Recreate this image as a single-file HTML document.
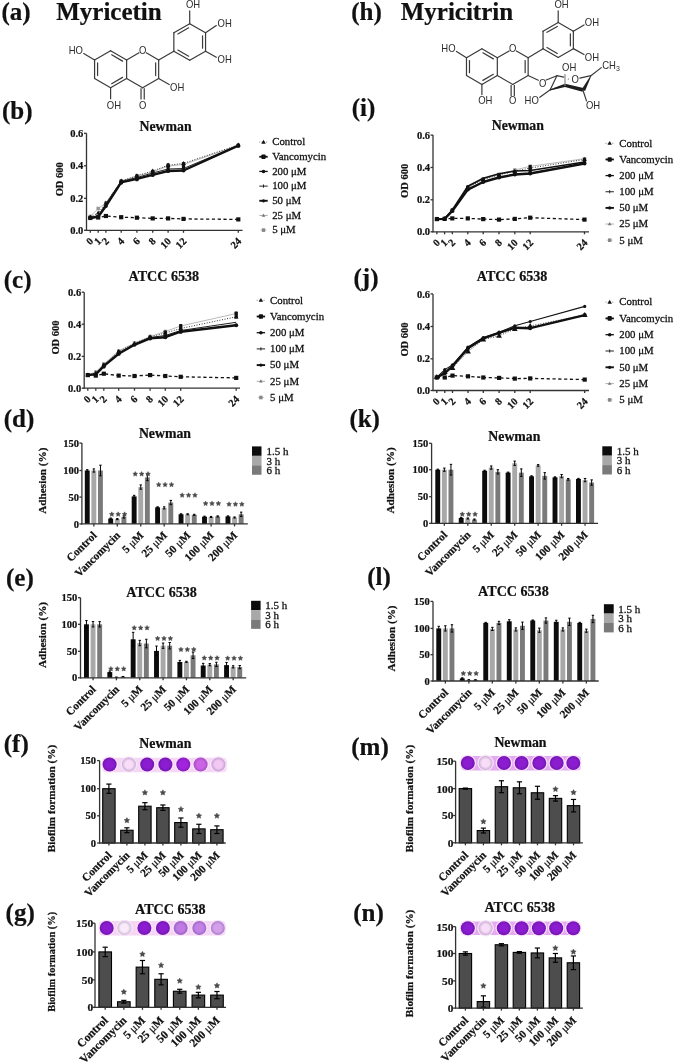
<!DOCTYPE html>
<html><head><meta charset="utf-8"><style>
html,body{margin:0;padding:0;background:#fff;}
svg{display:block;will-change:transform;}
</style></head><body>
<svg width="675" height="1064" viewBox="0 0 675 1064">
<rect width="675" height="1064" fill="#fff"/>
<text x="1.50" y="19.80" font-family="'Liberation Serif', serif" font-size="25" font-weight="bold" text-anchor="start" fill="#111" stroke="#111" stroke-width="0.22">(a)</text>
<text x="56.20" y="20.00" font-family="'Liberation Serif', serif" font-size="25" font-weight="bold" text-anchor="start" fill="#111" stroke="#111" stroke-width="0.22">Myricetin</text>
<text x="351.30" y="19.80" font-family="'Liberation Serif', serif" font-size="25" font-weight="bold" text-anchor="start" fill="#111" stroke="#111" stroke-width="0.22">(h)</text>
<text x="400.70" y="20.00" font-family="'Liberation Serif', serif" font-size="25" font-weight="bold" text-anchor="start" fill="#111" stroke="#111" stroke-width="0.22">Myricitrin</text>
<text x="2.00" y="118.60" font-family="'Liberation Serif', serif" font-size="25" font-weight="bold" text-anchor="start" fill="#111" stroke="#111" stroke-width="0.22">(b)</text>
<text x="3.80" y="287.50" font-family="'Liberation Serif', serif" font-size="25" font-weight="bold" text-anchor="start" fill="#111" stroke="#111" stroke-width="0.22">(c)</text>
<text x="3.80" y="427.30" font-family="'Liberation Serif', serif" font-size="25" font-weight="bold" text-anchor="start" fill="#111" stroke="#111" stroke-width="0.22">(d)</text>
<text x="6.00" y="586.30" font-family="'Liberation Serif', serif" font-size="25" font-weight="bold" text-anchor="start" fill="#111" stroke="#111" stroke-width="0.22">(e)</text>
<text x="3.80" y="751.50" font-family="'Liberation Serif', serif" font-size="25" font-weight="bold" text-anchor="start" fill="#111" stroke="#111" stroke-width="0.22">(f)</text>
<text x="5.60" y="920.50" font-family="'Liberation Serif', serif" font-size="25" font-weight="bold" text-anchor="start" fill="#111" stroke="#111" stroke-width="0.22">(g)</text>
<text x="351.70" y="116.30" font-family="'Liberation Serif', serif" font-size="25" font-weight="bold" text-anchor="start" fill="#111" stroke="#111" stroke-width="0.22">(i)</text>
<text x="353.50" y="286.30" font-family="'Liberation Serif', serif" font-size="25" font-weight="bold" text-anchor="start" fill="#111" stroke="#111" stroke-width="0.22">(j)</text>
<text x="349.40" y="427.00" font-family="'Liberation Serif', serif" font-size="25" font-weight="bold" text-anchor="start" fill="#111" stroke="#111" stroke-width="0.22">(k)</text>
<text x="367.30" y="585.40" font-family="'Liberation Serif', serif" font-size="25" font-weight="bold" text-anchor="start" fill="#111" stroke="#111" stroke-width="0.22">(l)</text>
<text x="351.30" y="754.50" font-family="'Liberation Serif', serif" font-size="25" font-weight="bold" text-anchor="start" fill="#111" stroke="#111" stroke-width="0.22">(m)</text>
<text x="353.20" y="920.50" font-family="'Liberation Serif', serif" font-size="25" font-weight="bold" text-anchor="start" fill="#111" stroke="#111" stroke-width="0.22">(n)</text>
<line x1="86.50" y1="133.30" x2="86.50" y2="230.80" stroke="#333" stroke-width="1.3"/>
<line x1="84.00" y1="133.30" x2="86.50" y2="133.30" stroke="#333" stroke-width="1.3"/>
<text x="83.30" y="136.90" font-family="'Liberation Serif', serif" font-size="10.5" font-weight="bold" text-anchor="end" fill="#111" stroke="#111" stroke-width="0.22">0.6</text>
<line x1="84.00" y1="165.80" x2="86.50" y2="165.80" stroke="#333" stroke-width="1.3"/>
<text x="83.30" y="169.40" font-family="'Liberation Serif', serif" font-size="10.5" font-weight="bold" text-anchor="end" fill="#111" stroke="#111" stroke-width="0.22">0.4</text>
<line x1="84.00" y1="198.30" x2="86.50" y2="198.30" stroke="#333" stroke-width="1.3"/>
<text x="83.30" y="201.90" font-family="'Liberation Serif', serif" font-size="10.5" font-weight="bold" text-anchor="end" fill="#111" stroke="#111" stroke-width="0.22">0.2</text>
<line x1="84.00" y1="230.30" x2="86.50" y2="230.30" stroke="#333" stroke-width="1.3"/>
<text x="83.30" y="233.90" font-family="'Liberation Serif', serif" font-size="10.5" font-weight="bold" text-anchor="end" fill="#111" stroke="#111" stroke-width="0.22">0.0</text>
<line x1="86.00" y1="230.30" x2="242.50" y2="230.30" stroke="#333" stroke-width="1.3"/>
<line x1="90.30" y1="230.30" x2="90.30" y2="232.80" stroke="#333" stroke-width="1.3"/>
<line x1="98.20" y1="230.30" x2="98.20" y2="232.80" stroke="#333" stroke-width="1.3"/>
<line x1="105.90" y1="230.30" x2="105.90" y2="232.80" stroke="#333" stroke-width="1.3"/>
<line x1="121.20" y1="230.30" x2="121.20" y2="232.80" stroke="#333" stroke-width="1.3"/>
<line x1="136.90" y1="230.30" x2="136.90" y2="232.80" stroke="#333" stroke-width="1.3"/>
<line x1="152.70" y1="230.30" x2="152.70" y2="232.80" stroke="#333" stroke-width="1.3"/>
<line x1="168.10" y1="230.30" x2="168.10" y2="232.80" stroke="#333" stroke-width="1.3"/>
<line x1="183.50" y1="230.30" x2="183.50" y2="232.80" stroke="#333" stroke-width="1.3"/>
<line x1="238.30" y1="230.30" x2="238.30" y2="232.80" stroke="#333" stroke-width="1.3"/>
<text x="94.00" y="241.90" font-family="'Liberation Serif', serif" font-size="10.4" font-weight="bold" text-anchor="end" fill="#111" transform="rotate(-45 94.00 241.90)" stroke="#111" stroke-width="0.22">0</text>
<text x="101.90" y="241.90" font-family="'Liberation Serif', serif" font-size="10.4" font-weight="bold" text-anchor="end" fill="#111" transform="rotate(-45 101.90 241.90)" stroke="#111" stroke-width="0.22">1</text>
<text x="109.60" y="241.90" font-family="'Liberation Serif', serif" font-size="10.4" font-weight="bold" text-anchor="end" fill="#111" transform="rotate(-45 109.60 241.90)" stroke="#111" stroke-width="0.22">2</text>
<text x="124.90" y="241.90" font-family="'Liberation Serif', serif" font-size="10.4" font-weight="bold" text-anchor="end" fill="#111" transform="rotate(-45 124.90 241.90)" stroke="#111" stroke-width="0.22">4</text>
<text x="140.60" y="241.90" font-family="'Liberation Serif', serif" font-size="10.4" font-weight="bold" text-anchor="end" fill="#111" transform="rotate(-45 140.60 241.90)" stroke="#111" stroke-width="0.22">6</text>
<text x="156.40" y="241.90" font-family="'Liberation Serif', serif" font-size="10.4" font-weight="bold" text-anchor="end" fill="#111" transform="rotate(-45 156.40 241.90)" stroke="#111" stroke-width="0.22">8</text>
<text x="171.80" y="241.90" font-family="'Liberation Serif', serif" font-size="10.4" font-weight="bold" text-anchor="end" fill="#111" transform="rotate(-45 171.80 241.90)" stroke="#111" stroke-width="0.22">10</text>
<text x="187.20" y="241.90" font-family="'Liberation Serif', serif" font-size="10.4" font-weight="bold" text-anchor="end" fill="#111" transform="rotate(-45 187.20 241.90)" stroke="#111" stroke-width="0.22">12</text>
<text x="242.00" y="241.90" font-family="'Liberation Serif', serif" font-size="10.4" font-weight="bold" text-anchor="end" fill="#111" transform="rotate(-45 242.00 241.90)" stroke="#111" stroke-width="0.22">24</text>
<text x="62.80" y="179.30" font-family="'Liberation Serif', serif" font-size="10.5" font-weight="bold" text-anchor="middle" fill="#111" transform="rotate(-90 62.80 179.30)" stroke="#111" stroke-width="0.22">OD 600</text>
<text x="139.50" y="130.50" font-family="'Liberation Serif', serif" font-size="13.8" font-weight="bold" text-anchor="start" fill="#111" stroke="#111" stroke-width="0.22">Newman</text>
<polyline points="90.30,216.50 98.20,208.50 105.90,203.00 121.20,181.00 136.90,176.00 152.70,172.00 168.10,166.00 183.50,164.50 238.30,145.50" fill="none" stroke="#bbb" stroke-width="1.0" stroke-linejoin="round"/>
<rect x="88.54" y="214.74" width="3.52" height="3.52" fill="#999"/>
<rect x="96.44" y="206.74" width="3.52" height="3.52" fill="#999"/>
<rect x="104.14" y="201.24" width="3.52" height="3.52" fill="#999"/>
<rect x="119.44" y="179.24" width="3.52" height="3.52" fill="#999"/>
<rect x="135.14" y="174.24" width="3.52" height="3.52" fill="#999"/>
<rect x="150.94" y="170.24" width="3.52" height="3.52" fill="#999"/>
<rect x="166.34" y="164.24" width="3.52" height="3.52" fill="#999"/>
<rect x="181.74" y="162.74" width="3.52" height="3.52" fill="#999"/>
<rect x="236.54" y="143.74" width="3.52" height="3.52" fill="#999"/>
<polyline points="90.30,217.00 98.20,213.00 105.90,203.00 121.20,181.00 136.90,175.80 152.70,171.00 168.10,165.30 183.50,163.40 238.30,145.00" fill="none" stroke="#333" stroke-width="1.0" stroke-linejoin="round" stroke-dasharray="1,1.6"/>
<polygon points="90.30,214.48 92.64,218.62 87.96,218.62" fill="#111"/>
<polygon points="98.20,210.48 100.54,214.62 95.86,214.62" fill="#111"/>
<polygon points="105.90,200.48 108.24,204.62 103.56,204.62" fill="#111"/>
<polygon points="121.20,178.48 123.54,182.62 118.86,182.62" fill="#111"/>
<polygon points="136.90,173.28 139.24,177.42 134.56,177.42" fill="#111"/>
<polygon points="152.70,168.48 155.04,172.62 150.36,172.62" fill="#111"/>
<polygon points="168.10,162.78 170.44,166.92 165.76,166.92" fill="#111"/>
<polygon points="183.50,160.88 185.84,165.02 181.16,165.02" fill="#111"/>
<polygon points="238.30,142.48 240.64,146.62 235.96,146.62" fill="#111"/>
<polyline points="90.30,217.50 98.20,215.50 105.90,204.00 121.20,181.50 136.90,177.50 152.70,173.00 168.10,169.00 183.50,168.50 238.30,145.50" fill="none" stroke="#222" stroke-width="1.0" stroke-linejoin="round"/>
<polyline points="90.30,218.00 98.20,216.80 105.90,206.10 121.20,182.40 136.90,178.80 152.70,174.80 168.10,171.00 183.50,170.50 238.30,145.70" fill="none" stroke="#111" stroke-width="2.4" stroke-linejoin="round"/>
<circle cx="90.30" cy="218.00" r="2.00" fill="#111"/>
<circle cx="98.20" cy="216.80" r="2.00" fill="#111"/>
<circle cx="105.90" cy="206.10" r="2.00" fill="#111"/>
<circle cx="121.20" cy="182.40" r="2.00" fill="#111"/>
<circle cx="136.90" cy="178.80" r="2.00" fill="#111"/>
<circle cx="152.70" cy="174.80" r="2.00" fill="#111"/>
<circle cx="168.10" cy="171.00" r="2.00" fill="#111"/>
<circle cx="183.50" cy="170.50" r="2.00" fill="#111"/>
<circle cx="238.30" cy="145.70" r="2.00" fill="#111"/>
<polyline points="90.30,218.00 98.20,217.50 105.90,216.00 121.20,217.20 136.90,217.70 152.70,218.40 168.10,218.40 183.50,218.90 238.30,219.40" fill="none" stroke="#111" stroke-width="1.3" stroke-linejoin="round" stroke-dasharray="3.2,2.6"/>
<rect x="88.21" y="215.91" width="4.18" height="4.18" fill="#111"/>
<rect x="96.11" y="215.41" width="4.18" height="4.18" fill="#111"/>
<rect x="103.81" y="213.91" width="4.18" height="4.18" fill="#111"/>
<rect x="119.11" y="215.11" width="4.18" height="4.18" fill="#111"/>
<rect x="134.81" y="215.61" width="4.18" height="4.18" fill="#111"/>
<rect x="150.61" y="216.31" width="4.18" height="4.18" fill="#111"/>
<rect x="166.01" y="216.31" width="4.18" height="4.18" fill="#111"/>
<rect x="181.41" y="216.81" width="4.18" height="4.18" fill="#111"/>
<rect x="236.21" y="217.31" width="4.18" height="4.18" fill="#111"/>
<rect x="119.60" y="179.50" width="3.2" height="4.90" rx="0.8" fill="#111"/>
<rect x="135.30" y="174.20" width="3.2" height="7.00" rx="0.8" fill="#111"/>
<rect x="151.10" y="169.80" width="3.2" height="6.90" rx="0.8" fill="#111"/>
<rect x="166.50" y="163.30" width="3.2" height="9.20" rx="0.8" fill="#111"/>
<rect x="181.90" y="162.00" width="3.2" height="9.30" rx="0.8" fill="#111"/>
<rect x="236.70" y="143.50" width="3.2" height="4.00" rx="0.8" fill="#111"/>
<line x1="259.30" y1="142.10" x2="267.70" y2="142.10" stroke="#666" stroke-width="0.9" stroke-dasharray="0.9,1.4"/>
<polygon points="263.50,139.72 265.71,143.63 261.29,143.63" fill="#111"/>
<text x="272.20" y="145.40" font-family="'Liberation Serif', serif" font-size="10.8" font-weight="normal" text-anchor="start" fill="#111" stroke="#111" stroke-width="0.28">Control</text>
<line x1="259.30" y1="156.77" x2="267.70" y2="156.77" stroke="#111" stroke-width="1.8"/>
<rect x="261.40" y="154.47" width="4.2" height="4.6" rx="0.8" fill="#111"/>
<text x="272.20" y="160.07" font-family="'Liberation Serif', serif" font-size="10.8" font-weight="normal" text-anchor="start" fill="#111" stroke="#111" stroke-width="0.28">Vancomycin</text>
<line x1="259.30" y1="171.44" x2="267.70" y2="171.44" stroke="#111" stroke-width="1.3"/>
<circle cx="263.50" cy="171.44" r="1.80" fill="#111"/>
<text x="272.20" y="174.74" font-family="'Liberation Serif', serif" font-size="10.8" font-weight="normal" text-anchor="start" fill="#111" stroke="#111" stroke-width="0.28">200 &#956;M</text>
<line x1="259.30" y1="186.11" x2="267.70" y2="186.11" stroke="#222" stroke-width="1.0"/>
<line x1="263.50" y1="184.51" x2="263.50" y2="187.71" stroke="#222" stroke-width="1.0"/>
<text x="272.20" y="189.41" font-family="'Liberation Serif', serif" font-size="10.8" font-weight="normal" text-anchor="start" fill="#111" stroke="#111" stroke-width="0.28">100 &#956;M</text>
<line x1="259.30" y1="200.78" x2="267.70" y2="200.78" stroke="#111" stroke-width="1.9"/>
<circle cx="263.50" cy="200.78" r="1.60" fill="#111"/>
<text x="272.20" y="204.08" font-family="'Liberation Serif', serif" font-size="10.8" font-weight="normal" text-anchor="start" fill="#111" stroke="#111" stroke-width="0.28">50 &#956;M</text>
<line x1="259.30" y1="215.45" x2="267.70" y2="215.45" stroke="#999" stroke-width="0.8"/>
<polygon points="263.50,213.49 265.32,216.71 261.68,216.71" fill="#777"/>
<text x="272.20" y="218.75" font-family="'Liberation Serif', serif" font-size="10.8" font-weight="normal" text-anchor="start" fill="#111" stroke="#111" stroke-width="0.28">25 &#956;M</text>
<line x1="260.50" y1="230.12" x2="266.50" y2="230.12" stroke="#bbb" stroke-width="0.8"/>
<rect x="261.80" y="228.32" width="3.40" height="3.60" fill="#888"/>
<text x="272.20" y="233.42" font-family="'Liberation Serif', serif" font-size="10.8" font-weight="normal" text-anchor="start" fill="#111" stroke="#111" stroke-width="0.28">5 &#956;M</text>
<line x1="84.20" y1="292.20" x2="84.20" y2="388.70" stroke="#333" stroke-width="1.3"/>
<line x1="81.70" y1="292.20" x2="84.20" y2="292.20" stroke="#333" stroke-width="1.3"/>
<text x="81.20" y="295.80" font-family="'Liberation Serif', serif" font-size="10.5" font-weight="bold" text-anchor="end" fill="#111" stroke="#111" stroke-width="0.22">0.6</text>
<line x1="81.70" y1="324.20" x2="84.20" y2="324.20" stroke="#333" stroke-width="1.3"/>
<text x="81.20" y="327.80" font-family="'Liberation Serif', serif" font-size="10.5" font-weight="bold" text-anchor="end" fill="#111" stroke="#111" stroke-width="0.22">0.4</text>
<line x1="81.70" y1="356.40" x2="84.20" y2="356.40" stroke="#333" stroke-width="1.3"/>
<text x="81.20" y="360.00" font-family="'Liberation Serif', serif" font-size="10.5" font-weight="bold" text-anchor="end" fill="#111" stroke="#111" stroke-width="0.22">0.2</text>
<line x1="81.70" y1="388.20" x2="84.20" y2="388.20" stroke="#333" stroke-width="1.3"/>
<text x="81.20" y="391.80" font-family="'Liberation Serif', serif" font-size="10.5" font-weight="bold" text-anchor="end" fill="#111" stroke="#111" stroke-width="0.22">0.0</text>
<line x1="83.70" y1="388.20" x2="240.00" y2="388.20" stroke="#333" stroke-width="1.3"/>
<line x1="87.80" y1="388.20" x2="87.80" y2="390.70" stroke="#333" stroke-width="1.3"/>
<line x1="95.80" y1="388.20" x2="95.80" y2="390.70" stroke="#333" stroke-width="1.3"/>
<line x1="103.80" y1="388.20" x2="103.80" y2="390.70" stroke="#333" stroke-width="1.3"/>
<line x1="118.70" y1="388.20" x2="118.70" y2="390.70" stroke="#333" stroke-width="1.3"/>
<line x1="134.50" y1="388.20" x2="134.50" y2="390.70" stroke="#333" stroke-width="1.3"/>
<line x1="150.10" y1="388.20" x2="150.10" y2="390.70" stroke="#333" stroke-width="1.3"/>
<line x1="165.30" y1="388.20" x2="165.30" y2="390.70" stroke="#333" stroke-width="1.3"/>
<line x1="180.70" y1="388.20" x2="180.70" y2="390.70" stroke="#333" stroke-width="1.3"/>
<line x1="236.20" y1="388.20" x2="236.20" y2="390.70" stroke="#333" stroke-width="1.3"/>
<text x="91.50" y="399.80" font-family="'Liberation Serif', serif" font-size="10.4" font-weight="bold" text-anchor="end" fill="#111" transform="rotate(-45 91.50 399.80)" stroke="#111" stroke-width="0.22">0</text>
<text x="99.50" y="399.80" font-family="'Liberation Serif', serif" font-size="10.4" font-weight="bold" text-anchor="end" fill="#111" transform="rotate(-45 99.50 399.80)" stroke="#111" stroke-width="0.22">1</text>
<text x="107.50" y="399.80" font-family="'Liberation Serif', serif" font-size="10.4" font-weight="bold" text-anchor="end" fill="#111" transform="rotate(-45 107.50 399.80)" stroke="#111" stroke-width="0.22">2</text>
<text x="122.40" y="399.80" font-family="'Liberation Serif', serif" font-size="10.4" font-weight="bold" text-anchor="end" fill="#111" transform="rotate(-45 122.40 399.80)" stroke="#111" stroke-width="0.22">4</text>
<text x="138.20" y="399.80" font-family="'Liberation Serif', serif" font-size="10.4" font-weight="bold" text-anchor="end" fill="#111" transform="rotate(-45 138.20 399.80)" stroke="#111" stroke-width="0.22">6</text>
<text x="153.80" y="399.80" font-family="'Liberation Serif', serif" font-size="10.4" font-weight="bold" text-anchor="end" fill="#111" transform="rotate(-45 153.80 399.80)" stroke="#111" stroke-width="0.22">8</text>
<text x="169.00" y="399.80" font-family="'Liberation Serif', serif" font-size="10.4" font-weight="bold" text-anchor="end" fill="#111" transform="rotate(-45 169.00 399.80)" stroke="#111" stroke-width="0.22">10</text>
<text x="184.40" y="399.80" font-family="'Liberation Serif', serif" font-size="10.4" font-weight="bold" text-anchor="end" fill="#111" transform="rotate(-45 184.40 399.80)" stroke="#111" stroke-width="0.22">12</text>
<text x="239.90" y="399.80" font-family="'Liberation Serif', serif" font-size="10.4" font-weight="bold" text-anchor="end" fill="#111" transform="rotate(-45 239.90 399.80)" stroke="#111" stroke-width="0.22">24</text>
<text x="58.80" y="337.50" font-family="'Liberation Serif', serif" font-size="10.5" font-weight="bold" text-anchor="middle" fill="#111" transform="rotate(-90 58.80 337.50)" stroke="#111" stroke-width="0.22">OD 600</text>
<text x="128.50" y="281.40" font-family="'Liberation Serif', serif" font-size="14.1" font-weight="bold" text-anchor="start" fill="#111" stroke="#111" stroke-width="0.22">ATCC 6538</text>
<polyline points="87.80,375.00 95.80,372.00 103.80,364.00 118.70,351.00 134.50,343.00 150.10,336.50 165.30,331.50 180.70,326.00 236.20,313.50" fill="none" stroke="#bbb" stroke-width="1.0" stroke-linejoin="round"/>
<rect x="86.04" y="373.24" width="3.52" height="3.52" fill="#999"/>
<rect x="94.04" y="370.24" width="3.52" height="3.52" fill="#999"/>
<rect x="102.04" y="362.24" width="3.52" height="3.52" fill="#999"/>
<rect x="116.94" y="349.24" width="3.52" height="3.52" fill="#999"/>
<rect x="132.74" y="341.24" width="3.52" height="3.52" fill="#999"/>
<rect x="148.34" y="334.74" width="3.52" height="3.52" fill="#999"/>
<rect x="163.54" y="329.74" width="3.52" height="3.52" fill="#999"/>
<rect x="178.94" y="324.24" width="3.52" height="3.52" fill="#999"/>
<rect x="234.44" y="311.74" width="3.52" height="3.52" fill="#999"/>
<polyline points="87.80,375.00 95.80,373.00 103.80,365.00 118.70,351.50 134.50,343.50 150.10,337.00 165.30,333.00 180.70,328.50 236.20,316.80" fill="none" stroke="#333" stroke-width="1.0" stroke-linejoin="round" stroke-dasharray="1,1.6"/>
<polygon points="87.80,372.48 90.14,376.62 85.46,376.62" fill="#111"/>
<polygon points="95.80,370.48 98.14,374.62 93.46,374.62" fill="#111"/>
<polygon points="103.80,362.48 106.14,366.62 101.46,366.62" fill="#111"/>
<polygon points="118.70,348.98 121.04,353.12 116.36,353.12" fill="#111"/>
<polygon points="134.50,340.98 136.84,345.12 132.16,345.12" fill="#111"/>
<polygon points="150.10,334.48 152.44,338.62 147.76,338.62" fill="#111"/>
<polygon points="165.30,330.48 167.64,334.62 162.96,334.62" fill="#111"/>
<polygon points="180.70,325.98 183.04,330.12 178.36,330.12" fill="#111"/>
<polygon points="236.20,314.28 238.54,318.42 233.86,318.42" fill="#111"/>
<polyline points="87.80,375.00 95.80,373.50 103.80,365.50 118.70,353.00 134.50,344.00 150.10,337.50 165.30,335.50 180.70,330.50 236.20,322.30" fill="none" stroke="#222" stroke-width="1.0" stroke-linejoin="round"/>
<polyline points="87.80,375.10 95.80,374.40 103.80,366.10 118.70,353.80 134.50,344.80 150.10,338.40 165.30,337.20 180.70,331.70 236.20,325.30" fill="none" stroke="#111" stroke-width="2.4" stroke-linejoin="round"/>
<circle cx="87.80" cy="375.10" r="2.00" fill="#111"/>
<circle cx="95.80" cy="374.40" r="2.00" fill="#111"/>
<circle cx="103.80" cy="366.10" r="2.00" fill="#111"/>
<circle cx="118.70" cy="353.80" r="2.00" fill="#111"/>
<circle cx="134.50" cy="344.80" r="2.00" fill="#111"/>
<circle cx="150.10" cy="338.40" r="2.00" fill="#111"/>
<circle cx="165.30" cy="337.20" r="2.00" fill="#111"/>
<circle cx="180.70" cy="331.70" r="2.00" fill="#111"/>
<circle cx="236.20" cy="325.30" r="2.00" fill="#111"/>
<polyline points="87.80,375.10 95.80,375.60 103.80,373.70 118.70,375.60 134.50,376.00 150.10,375.10 165.30,376.00 180.70,376.80 236.20,377.90" fill="none" stroke="#111" stroke-width="1.3" stroke-linejoin="round" stroke-dasharray="3.2,2.6"/>
<rect x="85.71" y="373.01" width="4.18" height="4.18" fill="#111"/>
<rect x="93.71" y="373.51" width="4.18" height="4.18" fill="#111"/>
<rect x="101.71" y="371.61" width="4.18" height="4.18" fill="#111"/>
<rect x="116.61" y="373.51" width="4.18" height="4.18" fill="#111"/>
<rect x="132.41" y="373.91" width="4.18" height="4.18" fill="#111"/>
<rect x="148.01" y="373.01" width="4.18" height="4.18" fill="#111"/>
<rect x="163.21" y="373.91" width="4.18" height="4.18" fill="#111"/>
<rect x="178.61" y="374.71" width="4.18" height="4.18" fill="#111"/>
<rect x="234.11" y="375.81" width="4.18" height="4.18" fill="#111"/>
<rect x="102.20" y="363.50" width="3.2" height="5.00" rx="0.8" fill="#111"/>
<rect x="117.10" y="350.50" width="3.2" height="5.00" rx="0.8" fill="#111"/>
<rect x="148.50" y="335.50" width="3.2" height="4.50" rx="0.8" fill="#111"/>
<rect x="163.70" y="330.50" width="3.2" height="8.00" rx="0.8" fill="#111"/>
<rect x="179.10" y="324.00" width="3.2" height="9.50" rx="0.8" fill="#111"/>
<rect x="234.60" y="311.50" width="3.2" height="7.00" rx="0.8" fill="#111"/>
<line x1="256.70" y1="300.30" x2="265.10" y2="300.30" stroke="#666" stroke-width="0.9" stroke-dasharray="0.9,1.4"/>
<polygon points="260.90,297.92 263.11,301.83 258.69,301.83" fill="#111"/>
<text x="270.10" y="303.60" font-family="'Liberation Serif', serif" font-size="10.8" font-weight="normal" text-anchor="start" fill="#111" stroke="#111" stroke-width="0.28">Control</text>
<line x1="256.70" y1="316.50" x2="265.10" y2="316.50" stroke="#111" stroke-width="1.8"/>
<rect x="258.80" y="314.20" width="4.2" height="4.6" rx="0.8" fill="#111"/>
<text x="270.10" y="319.80" font-family="'Liberation Serif', serif" font-size="10.8" font-weight="normal" text-anchor="start" fill="#111" stroke="#111" stroke-width="0.28">Vancomycin</text>
<line x1="256.70" y1="332.70" x2="265.10" y2="332.70" stroke="#111" stroke-width="1.3"/>
<circle cx="260.90" cy="332.70" r="1.80" fill="#111"/>
<text x="270.10" y="336.00" font-family="'Liberation Serif', serif" font-size="10.8" font-weight="normal" text-anchor="start" fill="#111" stroke="#111" stroke-width="0.28">200 &#956;M</text>
<line x1="256.70" y1="348.90" x2="265.10" y2="348.90" stroke="#222" stroke-width="1.0"/>
<line x1="260.90" y1="347.30" x2="260.90" y2="350.50" stroke="#222" stroke-width="1.0"/>
<text x="270.10" y="352.20" font-family="'Liberation Serif', serif" font-size="10.8" font-weight="normal" text-anchor="start" fill="#111" stroke="#111" stroke-width="0.28">100 &#956;M</text>
<line x1="256.70" y1="365.10" x2="265.10" y2="365.10" stroke="#111" stroke-width="1.9"/>
<circle cx="260.90" cy="365.10" r="1.60" fill="#111"/>
<text x="270.10" y="368.40" font-family="'Liberation Serif', serif" font-size="10.8" font-weight="normal" text-anchor="start" fill="#111" stroke="#111" stroke-width="0.28">50 &#956;M</text>
<line x1="256.70" y1="381.30" x2="265.10" y2="381.30" stroke="#999" stroke-width="0.8"/>
<polygon points="260.90,379.34 262.72,382.56 259.08,382.56" fill="#777"/>
<text x="270.10" y="384.60" font-family="'Liberation Serif', serif" font-size="10.8" font-weight="normal" text-anchor="start" fill="#111" stroke="#111" stroke-width="0.28">25 &#956;M</text>
<line x1="257.90" y1="397.50" x2="263.90" y2="397.50" stroke="#bbb" stroke-width="0.8"/>
<rect x="259.20" y="395.70" width="3.40" height="3.60" fill="#888"/>
<text x="270.10" y="400.80" font-family="'Liberation Serif', serif" font-size="10.8" font-weight="normal" text-anchor="start" fill="#111" stroke="#111" stroke-width="0.28">5 &#956;M</text>
<line x1="433.00" y1="135.10" x2="433.00" y2="232.30" stroke="#333" stroke-width="1.3"/>
<line x1="430.50" y1="135.10" x2="433.00" y2="135.10" stroke="#333" stroke-width="1.3"/>
<text x="430.00" y="138.70" font-family="'Liberation Serif', serif" font-size="10.5" font-weight="bold" text-anchor="end" fill="#111" stroke="#111" stroke-width="0.22">0.6</text>
<line x1="430.50" y1="167.50" x2="433.00" y2="167.50" stroke="#333" stroke-width="1.3"/>
<text x="430.00" y="171.10" font-family="'Liberation Serif', serif" font-size="10.5" font-weight="bold" text-anchor="end" fill="#111" stroke="#111" stroke-width="0.22">0.4</text>
<line x1="430.50" y1="199.80" x2="433.00" y2="199.80" stroke="#333" stroke-width="1.3"/>
<text x="430.00" y="203.40" font-family="'Liberation Serif', serif" font-size="10.5" font-weight="bold" text-anchor="end" fill="#111" stroke="#111" stroke-width="0.22">0.2</text>
<line x1="430.50" y1="231.80" x2="433.00" y2="231.80" stroke="#333" stroke-width="1.3"/>
<text x="430.00" y="235.40" font-family="'Liberation Serif', serif" font-size="10.5" font-weight="bold" text-anchor="end" fill="#111" stroke="#111" stroke-width="0.22">0.0</text>
<line x1="432.50" y1="231.80" x2="589.00" y2="231.80" stroke="#333" stroke-width="1.3"/>
<line x1="436.90" y1="231.80" x2="436.90" y2="234.30" stroke="#333" stroke-width="1.3"/>
<line x1="444.60" y1="231.80" x2="444.60" y2="234.30" stroke="#333" stroke-width="1.3"/>
<line x1="452.30" y1="231.80" x2="452.30" y2="234.30" stroke="#333" stroke-width="1.3"/>
<line x1="467.80" y1="231.80" x2="467.80" y2="234.30" stroke="#333" stroke-width="1.3"/>
<line x1="483.20" y1="231.80" x2="483.20" y2="234.30" stroke="#333" stroke-width="1.3"/>
<line x1="499.00" y1="231.80" x2="499.00" y2="234.30" stroke="#333" stroke-width="1.3"/>
<line x1="514.80" y1="231.80" x2="514.80" y2="234.30" stroke="#333" stroke-width="1.3"/>
<line x1="530.20" y1="231.80" x2="530.20" y2="234.30" stroke="#333" stroke-width="1.3"/>
<line x1="584.50" y1="231.80" x2="584.50" y2="234.30" stroke="#333" stroke-width="1.3"/>
<text x="440.60" y="243.40" font-family="'Liberation Serif', serif" font-size="10.4" font-weight="bold" text-anchor="end" fill="#111" transform="rotate(-45 440.60 243.40)" stroke="#111" stroke-width="0.22">0</text>
<text x="448.30" y="243.40" font-family="'Liberation Serif', serif" font-size="10.4" font-weight="bold" text-anchor="end" fill="#111" transform="rotate(-45 448.30 243.40)" stroke="#111" stroke-width="0.22">1</text>
<text x="456.00" y="243.40" font-family="'Liberation Serif', serif" font-size="10.4" font-weight="bold" text-anchor="end" fill="#111" transform="rotate(-45 456.00 243.40)" stroke="#111" stroke-width="0.22">2</text>
<text x="471.50" y="243.40" font-family="'Liberation Serif', serif" font-size="10.4" font-weight="bold" text-anchor="end" fill="#111" transform="rotate(-45 471.50 243.40)" stroke="#111" stroke-width="0.22">4</text>
<text x="486.90" y="243.40" font-family="'Liberation Serif', serif" font-size="10.4" font-weight="bold" text-anchor="end" fill="#111" transform="rotate(-45 486.90 243.40)" stroke="#111" stroke-width="0.22">6</text>
<text x="502.70" y="243.40" font-family="'Liberation Serif', serif" font-size="10.4" font-weight="bold" text-anchor="end" fill="#111" transform="rotate(-45 502.70 243.40)" stroke="#111" stroke-width="0.22">8</text>
<text x="518.50" y="243.40" font-family="'Liberation Serif', serif" font-size="10.4" font-weight="bold" text-anchor="end" fill="#111" transform="rotate(-45 518.50 243.40)" stroke="#111" stroke-width="0.22">10</text>
<text x="533.90" y="243.40" font-family="'Liberation Serif', serif" font-size="10.4" font-weight="bold" text-anchor="end" fill="#111" transform="rotate(-45 533.90 243.40)" stroke="#111" stroke-width="0.22">12</text>
<text x="588.20" y="243.40" font-family="'Liberation Serif', serif" font-size="10.4" font-weight="bold" text-anchor="end" fill="#111" transform="rotate(-45 588.20 243.40)" stroke="#111" stroke-width="0.22">24</text>
<text x="407.60" y="180.90" font-family="'Liberation Serif', serif" font-size="10.5" font-weight="bold" text-anchor="middle" fill="#111" transform="rotate(-90 407.60 180.90)" stroke="#111" stroke-width="0.22">OD 600</text>
<text x="491.70" y="130.30" font-family="'Liberation Serif', serif" font-size="13.8" font-weight="bold" text-anchor="start" fill="#111" stroke="#111" stroke-width="0.22">Newman</text>
<polyline points="436.90,219.00 444.60,218.50 452.30,210.00 467.80,187.00 483.20,179.00 499.00,174.50 514.80,170.00 530.20,166.30 584.50,158.70" fill="none" stroke="#bbb" stroke-width="1.0" stroke-linejoin="round"/>
<rect x="435.14" y="217.24" width="3.52" height="3.52" fill="#999"/>
<rect x="442.84" y="216.74" width="3.52" height="3.52" fill="#999"/>
<rect x="450.54" y="208.24" width="3.52" height="3.52" fill="#999"/>
<rect x="466.04" y="185.24" width="3.52" height="3.52" fill="#999"/>
<rect x="481.44" y="177.24" width="3.52" height="3.52" fill="#999"/>
<rect x="497.24" y="172.74" width="3.52" height="3.52" fill="#999"/>
<rect x="513.04" y="168.24" width="3.52" height="3.52" fill="#999"/>
<rect x="528.44" y="164.54" width="3.52" height="3.52" fill="#999"/>
<rect x="582.74" y="156.94" width="3.52" height="3.52" fill="#999"/>
<polyline points="436.90,219.00 444.60,218.50 452.30,210.00 467.80,187.50 483.20,179.50 499.00,175.00 514.80,171.30 530.20,168.00 584.50,159.50" fill="none" stroke="#333" stroke-width="1.0" stroke-linejoin="round" stroke-dasharray="1,1.6"/>
<polygon points="436.90,216.48 439.24,220.62 434.56,220.62" fill="#111"/>
<polygon points="444.60,215.98 446.94,220.12 442.26,220.12" fill="#111"/>
<polygon points="452.30,207.48 454.64,211.62 449.96,211.62" fill="#111"/>
<polygon points="467.80,184.98 470.14,189.12 465.46,189.12" fill="#111"/>
<polygon points="483.20,176.98 485.54,181.12 480.86,181.12" fill="#111"/>
<polygon points="499.00,172.48 501.34,176.62 496.66,176.62" fill="#111"/>
<polygon points="514.80,168.78 517.14,172.92 512.46,172.92" fill="#111"/>
<polygon points="530.20,165.48 532.54,169.62 527.86,169.62" fill="#111"/>
<polygon points="584.50,156.98 586.84,161.12 582.16,161.12" fill="#111"/>
<polyline points="436.90,219.00 444.60,218.70 452.30,210.00 467.80,186.30 483.20,178.30 499.00,173.80 514.80,171.00 530.20,170.50 584.50,162.00" fill="none" stroke="#111" stroke-width="1.6" stroke-linejoin="round"/>
<polyline points="436.90,219.10 444.60,218.90 452.30,211.00 467.80,189.60 483.20,182.00 499.00,177.50 514.80,174.50 530.20,173.50 584.50,163.50" fill="none" stroke="#111" stroke-width="2.4" stroke-linejoin="round"/>
<circle cx="436.90" cy="219.10" r="2.00" fill="#111"/>
<circle cx="444.60" cy="218.90" r="2.00" fill="#111"/>
<circle cx="452.30" cy="211.00" r="2.00" fill="#111"/>
<circle cx="467.80" cy="189.60" r="2.00" fill="#111"/>
<circle cx="483.20" cy="182.00" r="2.00" fill="#111"/>
<circle cx="499.00" cy="177.50" r="2.00" fill="#111"/>
<circle cx="514.80" cy="174.50" r="2.00" fill="#111"/>
<circle cx="530.20" cy="173.50" r="2.00" fill="#111"/>
<circle cx="584.50" cy="163.50" r="2.00" fill="#111"/>
<polyline points="436.90,219.10 444.60,218.90 452.30,218.40 467.80,218.40 483.20,219.10 499.00,219.60 514.80,218.90 530.20,217.70 584.50,219.60" fill="none" stroke="#111" stroke-width="1.3" stroke-linejoin="round" stroke-dasharray="3.2,2.6"/>
<rect x="434.81" y="217.01" width="4.18" height="4.18" fill="#111"/>
<rect x="442.51" y="216.81" width="4.18" height="4.18" fill="#111"/>
<rect x="450.21" y="216.31" width="4.18" height="4.18" fill="#111"/>
<rect x="465.71" y="216.31" width="4.18" height="4.18" fill="#111"/>
<rect x="481.11" y="217.01" width="4.18" height="4.18" fill="#111"/>
<rect x="496.91" y="217.51" width="4.18" height="4.18" fill="#111"/>
<rect x="512.71" y="216.81" width="4.18" height="4.18" fill="#111"/>
<rect x="528.11" y="215.61" width="4.18" height="4.18" fill="#111"/>
<rect x="582.41" y="217.51" width="4.18" height="4.18" fill="#111"/>
<rect x="450.70" y="208.50" width="3.2" height="4.00" rx="0.8" fill="#111"/>
<rect x="466.20" y="185.50" width="3.2" height="4.90" rx="0.8" fill="#111"/>
<rect x="481.60" y="177.80" width="3.2" height="4.90" rx="0.8" fill="#111"/>
<rect x="497.40" y="173.30" width="3.2" height="4.90" rx="0.8" fill="#111"/>
<rect x="513.20" y="170.30" width="3.2" height="4.90" rx="0.8" fill="#111"/>
<rect x="528.60" y="165.00" width="3.2" height="9.50" rx="0.8" fill="#111"/>
<rect x="582.90" y="158.00" width="3.2" height="6.50" rx="0.8" fill="#111"/>
<line x1="605.50" y1="143.30" x2="613.90" y2="143.30" stroke="#666" stroke-width="0.9" stroke-dasharray="0.9,1.4"/>
<polygon points="609.70,140.92 611.91,144.83 607.49,144.83" fill="#111"/>
<text x="619.30" y="146.60" font-family="'Liberation Serif', serif" font-size="10.8" font-weight="normal" text-anchor="start" fill="#111" stroke="#111" stroke-width="0.28">Control</text>
<line x1="605.50" y1="159.45" x2="613.90" y2="159.45" stroke="#111" stroke-width="1.8"/>
<rect x="607.60" y="157.15" width="4.2" height="4.6" rx="0.8" fill="#111"/>
<text x="619.30" y="162.75" font-family="'Liberation Serif', serif" font-size="10.8" font-weight="normal" text-anchor="start" fill="#111" stroke="#111" stroke-width="0.28">Vancomycin</text>
<line x1="605.50" y1="175.60" x2="613.90" y2="175.60" stroke="#111" stroke-width="1.3"/>
<circle cx="609.70" cy="175.60" r="1.80" fill="#111"/>
<text x="619.30" y="178.90" font-family="'Liberation Serif', serif" font-size="10.8" font-weight="normal" text-anchor="start" fill="#111" stroke="#111" stroke-width="0.28">200 &#956;M</text>
<line x1="605.50" y1="191.75" x2="613.90" y2="191.75" stroke="#222" stroke-width="1.0"/>
<line x1="609.70" y1="190.15" x2="609.70" y2="193.35" stroke="#222" stroke-width="1.0"/>
<text x="619.30" y="195.05" font-family="'Liberation Serif', serif" font-size="10.8" font-weight="normal" text-anchor="start" fill="#111" stroke="#111" stroke-width="0.28">100 &#956;M</text>
<line x1="605.50" y1="207.90" x2="613.90" y2="207.90" stroke="#111" stroke-width="1.9"/>
<circle cx="609.70" cy="207.90" r="1.60" fill="#111"/>
<text x="619.30" y="211.20" font-family="'Liberation Serif', serif" font-size="10.8" font-weight="normal" text-anchor="start" fill="#111" stroke="#111" stroke-width="0.28">50 &#956;M</text>
<line x1="605.50" y1="224.05" x2="613.90" y2="224.05" stroke="#999" stroke-width="0.8"/>
<polygon points="609.70,222.09 611.52,225.31 607.88,225.31" fill="#777"/>
<text x="619.30" y="227.35" font-family="'Liberation Serif', serif" font-size="10.8" font-weight="normal" text-anchor="start" fill="#111" stroke="#111" stroke-width="0.28">25 &#956;M</text>
<line x1="606.70" y1="240.20" x2="612.70" y2="240.20" stroke="#bbb" stroke-width="0.8"/>
<rect x="608.00" y="238.40" width="3.40" height="3.60" fill="#888"/>
<text x="619.30" y="243.50" font-family="'Liberation Serif', serif" font-size="10.8" font-weight="normal" text-anchor="start" fill="#111" stroke="#111" stroke-width="0.28">5 &#956;M</text>
<line x1="433.00" y1="293.90" x2="433.00" y2="391.00" stroke="#333" stroke-width="1.3"/>
<line x1="430.50" y1="293.90" x2="433.00" y2="293.90" stroke="#333" stroke-width="1.3"/>
<text x="430.00" y="297.50" font-family="'Liberation Serif', serif" font-size="10.5" font-weight="bold" text-anchor="end" fill="#111" stroke="#111" stroke-width="0.22">0.6</text>
<line x1="430.50" y1="326.50" x2="433.00" y2="326.50" stroke="#333" stroke-width="1.3"/>
<text x="430.00" y="330.10" font-family="'Liberation Serif', serif" font-size="10.5" font-weight="bold" text-anchor="end" fill="#111" stroke="#111" stroke-width="0.22">0.4</text>
<line x1="430.50" y1="358.80" x2="433.00" y2="358.80" stroke="#333" stroke-width="1.3"/>
<text x="430.00" y="362.40" font-family="'Liberation Serif', serif" font-size="10.5" font-weight="bold" text-anchor="end" fill="#111" stroke="#111" stroke-width="0.22">0.2</text>
<line x1="430.50" y1="390.50" x2="433.00" y2="390.50" stroke="#333" stroke-width="1.3"/>
<text x="430.00" y="394.10" font-family="'Liberation Serif', serif" font-size="10.5" font-weight="bold" text-anchor="end" fill="#111" stroke="#111" stroke-width="0.22">0.0</text>
<line x1="432.50" y1="390.50" x2="589.00" y2="390.50" stroke="#333" stroke-width="1.3"/>
<line x1="436.80" y1="390.50" x2="436.80" y2="393.00" stroke="#333" stroke-width="1.3"/>
<line x1="444.80" y1="390.50" x2="444.80" y2="393.00" stroke="#333" stroke-width="1.3"/>
<line x1="452.50" y1="390.50" x2="452.50" y2="393.00" stroke="#333" stroke-width="1.3"/>
<line x1="468.00" y1="390.50" x2="468.00" y2="393.00" stroke="#333" stroke-width="1.3"/>
<line x1="483.30" y1="390.50" x2="483.30" y2="393.00" stroke="#333" stroke-width="1.3"/>
<line x1="499.10" y1="390.50" x2="499.10" y2="393.00" stroke="#333" stroke-width="1.3"/>
<line x1="514.80" y1="390.50" x2="514.80" y2="393.00" stroke="#333" stroke-width="1.3"/>
<line x1="530.20" y1="390.50" x2="530.20" y2="393.00" stroke="#333" stroke-width="1.3"/>
<line x1="584.70" y1="390.50" x2="584.70" y2="393.00" stroke="#333" stroke-width="1.3"/>
<text x="440.50" y="402.10" font-family="'Liberation Serif', serif" font-size="10.4" font-weight="bold" text-anchor="end" fill="#111" transform="rotate(-45 440.50 402.10)" stroke="#111" stroke-width="0.22">0</text>
<text x="448.50" y="402.10" font-family="'Liberation Serif', serif" font-size="10.4" font-weight="bold" text-anchor="end" fill="#111" transform="rotate(-45 448.50 402.10)" stroke="#111" stroke-width="0.22">1</text>
<text x="456.20" y="402.10" font-family="'Liberation Serif', serif" font-size="10.4" font-weight="bold" text-anchor="end" fill="#111" transform="rotate(-45 456.20 402.10)" stroke="#111" stroke-width="0.22">2</text>
<text x="471.70" y="402.10" font-family="'Liberation Serif', serif" font-size="10.4" font-weight="bold" text-anchor="end" fill="#111" transform="rotate(-45 471.70 402.10)" stroke="#111" stroke-width="0.22">4</text>
<text x="487.00" y="402.10" font-family="'Liberation Serif', serif" font-size="10.4" font-weight="bold" text-anchor="end" fill="#111" transform="rotate(-45 487.00 402.10)" stroke="#111" stroke-width="0.22">6</text>
<text x="502.80" y="402.10" font-family="'Liberation Serif', serif" font-size="10.4" font-weight="bold" text-anchor="end" fill="#111" transform="rotate(-45 502.80 402.10)" stroke="#111" stroke-width="0.22">8</text>
<text x="518.50" y="402.10" font-family="'Liberation Serif', serif" font-size="10.4" font-weight="bold" text-anchor="end" fill="#111" transform="rotate(-45 518.50 402.10)" stroke="#111" stroke-width="0.22">10</text>
<text x="533.90" y="402.10" font-family="'Liberation Serif', serif" font-size="10.4" font-weight="bold" text-anchor="end" fill="#111" transform="rotate(-45 533.90 402.10)" stroke="#111" stroke-width="0.22">12</text>
<text x="588.40" y="402.10" font-family="'Liberation Serif', serif" font-size="10.4" font-weight="bold" text-anchor="end" fill="#111" transform="rotate(-45 588.40 402.10)" stroke="#111" stroke-width="0.22">24</text>
<text x="407.60" y="339.50" font-family="'Liberation Serif', serif" font-size="10.5" font-weight="bold" text-anchor="middle" fill="#111" transform="rotate(-90 407.60 339.50)" stroke="#111" stroke-width="0.22">OD 600</text>
<text x="476.80" y="280.80" font-family="'Liberation Serif', serif" font-size="14.1" font-weight="bold" text-anchor="start" fill="#111" stroke="#111" stroke-width="0.22">ATCC 6538</text>
<polyline points="436.80,377.00 444.80,372.00 452.50,368.00 468.00,351.40 483.30,339.50 499.10,335.80 514.80,329.00 530.20,326.00 584.70,315.00" fill="none" stroke="#333" stroke-width="1.0" stroke-linejoin="round" stroke-dasharray="1,1.6"/>
<polygon points="436.80,373.92 439.66,378.98 433.94,378.98" fill="#111"/>
<polygon points="444.80,368.92 447.66,373.98 441.94,373.98" fill="#111"/>
<polygon points="452.50,364.92 455.36,369.98 449.64,369.98" fill="#111"/>
<polygon points="468.00,348.32 470.86,353.38 465.14,353.38" fill="#111"/>
<polygon points="483.30,336.42 486.16,341.48 480.44,341.48" fill="#111"/>
<polygon points="499.10,332.72 501.96,337.78 496.24,337.78" fill="#111"/>
<polygon points="514.80,325.92 517.66,330.98 511.94,330.98" fill="#111"/>
<polygon points="530.20,322.92 533.06,327.98 527.34,327.98" fill="#111"/>
<polygon points="584.70,311.92 587.56,316.98 581.84,316.98" fill="#111"/>
<polyline points="436.80,377.50 444.80,369.60 452.50,364.90 468.00,347.00 483.30,337.50 499.10,332.20 514.80,325.80 530.20,321.50 584.70,306.40" fill="none" stroke="#111" stroke-width="1.1" stroke-linejoin="round"/>
<circle cx="436.80" cy="377.50" r="1.60" fill="#111"/>
<circle cx="444.80" cy="369.60" r="1.60" fill="#111"/>
<circle cx="452.50" cy="364.90" r="1.60" fill="#111"/>
<circle cx="468.00" cy="347.00" r="1.60" fill="#111"/>
<circle cx="483.30" cy="337.50" r="1.60" fill="#111"/>
<circle cx="499.10" cy="332.20" r="1.60" fill="#111"/>
<circle cx="514.80" cy="325.80" r="1.60" fill="#111"/>
<circle cx="530.20" cy="321.50" r="1.60" fill="#111"/>
<circle cx="584.70" cy="306.40" r="1.60" fill="#111"/>
<polyline points="436.80,377.50 444.80,373.20 452.50,366.10 468.00,348.30 483.30,338.40 499.10,332.90 514.80,327.70 530.20,328.20 584.70,315.10" fill="none" stroke="#111" stroke-width="2.4" stroke-linejoin="round"/>
<circle cx="436.80" cy="377.50" r="2.00" fill="#111"/>
<circle cx="444.80" cy="373.20" r="2.00" fill="#111"/>
<circle cx="452.50" cy="366.10" r="2.00" fill="#111"/>
<circle cx="468.00" cy="348.30" r="2.00" fill="#111"/>
<circle cx="483.30" cy="338.40" r="2.00" fill="#111"/>
<circle cx="499.10" cy="332.90" r="2.00" fill="#111"/>
<circle cx="514.80" cy="327.70" r="2.00" fill="#111"/>
<circle cx="530.20" cy="328.20" r="2.00" fill="#111"/>
<circle cx="584.70" cy="315.10" r="2.00" fill="#111"/>
<polyline points="436.80,377.50 444.80,377.50 452.50,375.60 468.00,376.30 483.30,377.50 499.10,377.90 514.80,378.60 530.20,378.40 584.70,379.60" fill="none" stroke="#111" stroke-width="1.3" stroke-linejoin="round" stroke-dasharray="3.2,2.6"/>
<rect x="434.71" y="375.41" width="4.18" height="4.18" fill="#111"/>
<rect x="442.71" y="375.41" width="4.18" height="4.18" fill="#111"/>
<rect x="450.41" y="373.51" width="4.18" height="4.18" fill="#111"/>
<rect x="465.91" y="374.21" width="4.18" height="4.18" fill="#111"/>
<rect x="481.21" y="375.41" width="4.18" height="4.18" fill="#111"/>
<rect x="497.01" y="375.81" width="4.18" height="4.18" fill="#111"/>
<rect x="512.71" y="376.51" width="4.18" height="4.18" fill="#111"/>
<rect x="528.11" y="376.31" width="4.18" height="4.18" fill="#111"/>
<rect x="582.61" y="377.51" width="4.18" height="4.18" fill="#111"/>
<line x1="605.50" y1="302.10" x2="613.90" y2="302.10" stroke="#666" stroke-width="0.9" stroke-dasharray="0.9,1.4"/>
<polygon points="609.70,299.72 611.91,303.63 607.49,303.63" fill="#111"/>
<text x="619.30" y="305.40" font-family="'Liberation Serif', serif" font-size="10.8" font-weight="normal" text-anchor="start" fill="#111" stroke="#111" stroke-width="0.28">Control</text>
<line x1="605.50" y1="318.40" x2="613.90" y2="318.40" stroke="#111" stroke-width="1.8"/>
<rect x="607.60" y="316.10" width="4.2" height="4.6" rx="0.8" fill="#111"/>
<text x="619.30" y="321.70" font-family="'Liberation Serif', serif" font-size="10.8" font-weight="normal" text-anchor="start" fill="#111" stroke="#111" stroke-width="0.28">Vancomycin</text>
<line x1="605.50" y1="334.70" x2="613.90" y2="334.70" stroke="#111" stroke-width="1.3"/>
<circle cx="609.70" cy="334.70" r="1.80" fill="#111"/>
<text x="619.30" y="338.00" font-family="'Liberation Serif', serif" font-size="10.8" font-weight="normal" text-anchor="start" fill="#111" stroke="#111" stroke-width="0.28">200 &#956;M</text>
<line x1="605.50" y1="351.00" x2="613.90" y2="351.00" stroke="#222" stroke-width="1.0"/>
<line x1="609.70" y1="349.40" x2="609.70" y2="352.60" stroke="#222" stroke-width="1.0"/>
<text x="619.30" y="354.30" font-family="'Liberation Serif', serif" font-size="10.8" font-weight="normal" text-anchor="start" fill="#111" stroke="#111" stroke-width="0.28">100 &#956;M</text>
<line x1="605.50" y1="367.30" x2="613.90" y2="367.30" stroke="#111" stroke-width="1.9"/>
<circle cx="609.70" cy="367.30" r="1.60" fill="#111"/>
<text x="619.30" y="370.60" font-family="'Liberation Serif', serif" font-size="10.8" font-weight="normal" text-anchor="start" fill="#111" stroke="#111" stroke-width="0.28">50 &#956;M</text>
<line x1="605.50" y1="383.60" x2="613.90" y2="383.60" stroke="#999" stroke-width="0.8"/>
<polygon points="609.70,381.64 611.52,384.86 607.88,384.86" fill="#777"/>
<text x="619.30" y="386.90" font-family="'Liberation Serif', serif" font-size="10.8" font-weight="normal" text-anchor="start" fill="#111" stroke="#111" stroke-width="0.28">25 &#956;M</text>
<line x1="606.70" y1="399.90" x2="612.70" y2="399.90" stroke="#bbb" stroke-width="0.8"/>
<rect x="608.00" y="398.10" width="3.40" height="3.60" fill="#888"/>
<text x="619.30" y="403.20" font-family="'Liberation Serif', serif" font-size="10.8" font-weight="normal" text-anchor="start" fill="#111" stroke="#111" stroke-width="0.28">5 &#956;M</text>
<rect x="84.80" y="470.50" width="4.90" height="53.40" fill="#0c0c0c"/>
<line x1="87.25" y1="469.70" x2="87.25" y2="471.30" stroke="#000" stroke-width="1.0"/>
<line x1="86.05" y1="469.70" x2="88.45" y2="469.70" stroke="#000" stroke-width="1.0"/>
<line x1="86.05" y1="471.30" x2="88.45" y2="471.30" stroke="#000" stroke-width="1.0"/>
<rect x="91.40" y="470.50" width="4.90" height="53.40" fill="#a8a8a8"/>
<line x1="93.85" y1="468.90" x2="93.85" y2="472.10" stroke="#000" stroke-width="1.0"/>
<line x1="92.65" y1="468.90" x2="95.05" y2="468.90" stroke="#000" stroke-width="1.0"/>
<line x1="92.65" y1="472.10" x2="95.05" y2="472.10" stroke="#000" stroke-width="1.0"/>
<rect x="98.00" y="470.50" width="4.90" height="53.40" fill="#7a7a7a"/>
<line x1="100.45" y1="465.16" x2="100.45" y2="475.84" stroke="#000" stroke-width="1.0"/>
<line x1="99.25" y1="465.16" x2="101.65" y2="465.16" stroke="#000" stroke-width="1.0"/>
<line x1="99.25" y1="475.84" x2="101.65" y2="475.84" stroke="#000" stroke-width="1.0"/>
<rect x="108.25" y="518.56" width="4.90" height="5.34" fill="#0c0c0c"/>
<line x1="110.70" y1="518.03" x2="110.70" y2="519.09" stroke="#000" stroke-width="1.0"/>
<line x1="109.50" y1="518.03" x2="111.90" y2="518.03" stroke="#000" stroke-width="1.0"/>
<line x1="109.50" y1="519.09" x2="111.90" y2="519.09" stroke="#000" stroke-width="1.0"/>
<rect x="114.85" y="519.09" width="4.90" height="4.81" fill="#a8a8a8"/>
<line x1="117.30" y1="518.56" x2="117.30" y2="519.63" stroke="#000" stroke-width="1.0"/>
<line x1="116.10" y1="518.56" x2="118.50" y2="518.56" stroke="#000" stroke-width="1.0"/>
<line x1="116.10" y1="519.63" x2="118.50" y2="519.63" stroke="#000" stroke-width="1.0"/>
<rect x="121.45" y="516.96" width="4.90" height="6.94" fill="#7a7a7a"/>
<line x1="123.90" y1="515.89" x2="123.90" y2="518.03" stroke="#000" stroke-width="1.0"/>
<line x1="122.70" y1="515.89" x2="125.10" y2="515.89" stroke="#000" stroke-width="1.0"/>
<line x1="122.70" y1="518.03" x2="125.10" y2="518.03" stroke="#000" stroke-width="1.0"/>
<rect x="131.70" y="496.40" width="4.90" height="27.50" fill="#0c0c0c"/>
<line x1="134.15" y1="495.33" x2="134.15" y2="497.47" stroke="#000" stroke-width="1.0"/>
<line x1="132.95" y1="495.33" x2="135.35" y2="495.33" stroke="#000" stroke-width="1.0"/>
<line x1="132.95" y1="497.47" x2="135.35" y2="497.47" stroke="#000" stroke-width="1.0"/>
<rect x="138.30" y="487.05" width="4.90" height="36.85" fill="#a8a8a8"/>
<line x1="140.75" y1="484.92" x2="140.75" y2="489.19" stroke="#000" stroke-width="1.0"/>
<line x1="139.55" y1="484.92" x2="141.95" y2="484.92" stroke="#000" stroke-width="1.0"/>
<line x1="139.55" y1="489.19" x2="141.95" y2="489.19" stroke="#000" stroke-width="1.0"/>
<rect x="144.90" y="477.44" width="4.90" height="46.46" fill="#7a7a7a"/>
<line x1="147.35" y1="474.24" x2="147.35" y2="480.65" stroke="#000" stroke-width="1.0"/>
<line x1="146.15" y1="474.24" x2="148.55" y2="474.24" stroke="#000" stroke-width="1.0"/>
<line x1="146.15" y1="480.65" x2="148.55" y2="480.65" stroke="#000" stroke-width="1.0"/>
<rect x="155.15" y="507.35" width="4.90" height="16.55" fill="#0c0c0c"/>
<line x1="157.60" y1="506.81" x2="157.60" y2="507.88" stroke="#000" stroke-width="1.0"/>
<line x1="156.40" y1="506.81" x2="158.80" y2="506.81" stroke="#000" stroke-width="1.0"/>
<line x1="156.40" y1="507.88" x2="158.80" y2="507.88" stroke="#000" stroke-width="1.0"/>
<rect x="161.75" y="507.88" width="4.90" height="16.02" fill="#a8a8a8"/>
<line x1="164.20" y1="506.81" x2="164.20" y2="508.95" stroke="#000" stroke-width="1.0"/>
<line x1="163.00" y1="506.81" x2="165.40" y2="506.81" stroke="#000" stroke-width="1.0"/>
<line x1="163.00" y1="508.95" x2="165.40" y2="508.95" stroke="#000" stroke-width="1.0"/>
<rect x="168.35" y="502.54" width="4.90" height="21.36" fill="#7a7a7a"/>
<line x1="170.80" y1="500.40" x2="170.80" y2="504.68" stroke="#000" stroke-width="1.0"/>
<line x1="169.60" y1="500.40" x2="172.00" y2="500.40" stroke="#000" stroke-width="1.0"/>
<line x1="169.60" y1="504.68" x2="172.00" y2="504.68" stroke="#000" stroke-width="1.0"/>
<rect x="178.60" y="514.29" width="4.90" height="9.61" fill="#0c0c0c"/>
<line x1="181.05" y1="513.75" x2="181.05" y2="514.82" stroke="#000" stroke-width="1.0"/>
<line x1="179.85" y1="513.75" x2="182.25" y2="513.75" stroke="#000" stroke-width="1.0"/>
<line x1="179.85" y1="514.82" x2="182.25" y2="514.82" stroke="#000" stroke-width="1.0"/>
<rect x="185.20" y="514.29" width="4.90" height="9.61" fill="#a8a8a8"/>
<line x1="187.65" y1="513.75" x2="187.65" y2="514.82" stroke="#000" stroke-width="1.0"/>
<line x1="186.45" y1="513.75" x2="188.85" y2="513.75" stroke="#000" stroke-width="1.0"/>
<line x1="186.45" y1="514.82" x2="188.85" y2="514.82" stroke="#000" stroke-width="1.0"/>
<rect x="191.80" y="514.82" width="4.90" height="9.08" fill="#7a7a7a"/>
<line x1="194.25" y1="514.29" x2="194.25" y2="515.36" stroke="#000" stroke-width="1.0"/>
<line x1="193.05" y1="514.29" x2="195.45" y2="514.29" stroke="#000" stroke-width="1.0"/>
<line x1="193.05" y1="515.36" x2="195.45" y2="515.36" stroke="#000" stroke-width="1.0"/>
<rect x="202.05" y="516.69" width="4.90" height="7.21" fill="#0c0c0c"/>
<line x1="204.50" y1="516.16" x2="204.50" y2="517.23" stroke="#000" stroke-width="1.0"/>
<line x1="203.30" y1="516.16" x2="205.70" y2="516.16" stroke="#000" stroke-width="1.0"/>
<line x1="203.30" y1="517.23" x2="205.70" y2="517.23" stroke="#000" stroke-width="1.0"/>
<rect x="208.65" y="516.96" width="4.90" height="6.94" fill="#a8a8a8"/>
<line x1="211.10" y1="516.42" x2="211.10" y2="517.49" stroke="#000" stroke-width="1.0"/>
<line x1="209.90" y1="516.42" x2="212.30" y2="516.42" stroke="#000" stroke-width="1.0"/>
<line x1="209.90" y1="517.49" x2="212.30" y2="517.49" stroke="#000" stroke-width="1.0"/>
<rect x="215.25" y="516.42" width="4.90" height="7.48" fill="#7a7a7a"/>
<line x1="217.70" y1="515.89" x2="217.70" y2="516.96" stroke="#000" stroke-width="1.0"/>
<line x1="216.50" y1="515.89" x2="218.90" y2="515.89" stroke="#000" stroke-width="1.0"/>
<line x1="216.50" y1="516.96" x2="218.90" y2="516.96" stroke="#000" stroke-width="1.0"/>
<rect x="225.50" y="516.42" width="4.90" height="7.48" fill="#0c0c0c"/>
<line x1="227.95" y1="515.89" x2="227.95" y2="516.96" stroke="#000" stroke-width="1.0"/>
<line x1="226.75" y1="515.89" x2="229.15" y2="515.89" stroke="#000" stroke-width="1.0"/>
<line x1="226.75" y1="516.96" x2="229.15" y2="516.96" stroke="#000" stroke-width="1.0"/>
<rect x="232.10" y="517.49" width="4.90" height="6.41" fill="#a8a8a8"/>
<line x1="234.55" y1="516.96" x2="234.55" y2="518.03" stroke="#000" stroke-width="1.0"/>
<line x1="233.35" y1="516.96" x2="235.75" y2="516.96" stroke="#000" stroke-width="1.0"/>
<line x1="233.35" y1="518.03" x2="235.75" y2="518.03" stroke="#000" stroke-width="1.0"/>
<rect x="238.70" y="514.29" width="4.90" height="9.61" fill="#7a7a7a"/>
<line x1="241.15" y1="512.15" x2="241.15" y2="516.42" stroke="#000" stroke-width="1.0"/>
<line x1="239.95" y1="512.15" x2="242.35" y2="512.15" stroke="#000" stroke-width="1.0"/>
<line x1="239.95" y1="516.42" x2="242.35" y2="516.42" stroke="#000" stroke-width="1.0"/>
<line x1="81.90" y1="443.10" x2="81.90" y2="524.40" stroke="#333" stroke-width="1.3"/>
<line x1="79.40" y1="443.10" x2="81.90" y2="443.10" stroke="#333" stroke-width="1.3"/>
<text x="79.00" y="446.70" font-family="'Liberation Serif', serif" font-size="10.5" font-weight="bold" text-anchor="end" fill="#111" stroke="#111" stroke-width="0.22">150</text>
<line x1="79.40" y1="470.50" x2="81.90" y2="470.50" stroke="#333" stroke-width="1.3"/>
<text x="79.00" y="474.10" font-family="'Liberation Serif', serif" font-size="10.5" font-weight="bold" text-anchor="end" fill="#111" stroke="#111" stroke-width="0.22">100</text>
<line x1="79.40" y1="497.10" x2="81.90" y2="497.10" stroke="#333" stroke-width="1.3"/>
<text x="79.00" y="500.70" font-family="'Liberation Serif', serif" font-size="10.5" font-weight="bold" text-anchor="end" fill="#111" stroke="#111" stroke-width="0.22">50</text>
<line x1="79.40" y1="523.90" x2="81.90" y2="523.90" stroke="#333" stroke-width="1.3"/>
<text x="79.00" y="527.50" font-family="'Liberation Serif', serif" font-size="10.5" font-weight="bold" text-anchor="end" fill="#111" stroke="#111" stroke-width="0.22">0</text>
<line x1="81.40" y1="523.90" x2="247.80" y2="523.90" stroke="#333" stroke-width="1.3"/>
<line x1="93.85" y1="523.90" x2="93.85" y2="526.40" stroke="#333" stroke-width="1.3"/>
<line x1="117.30" y1="523.90" x2="117.30" y2="526.40" stroke="#333" stroke-width="1.3"/>
<line x1="140.75" y1="523.90" x2="140.75" y2="526.40" stroke="#333" stroke-width="1.3"/>
<line x1="164.20" y1="523.90" x2="164.20" y2="526.40" stroke="#333" stroke-width="1.3"/>
<line x1="187.65" y1="523.90" x2="187.65" y2="526.40" stroke="#333" stroke-width="1.3"/>
<line x1="211.10" y1="523.90" x2="211.10" y2="526.40" stroke="#333" stroke-width="1.3"/>
<line x1="234.55" y1="523.90" x2="234.55" y2="526.40" stroke="#333" stroke-width="1.3"/>
<polygon points="111.80,511.80 112.53,513.29 114.18,513.53 112.99,514.69 113.27,516.32 111.80,515.55 110.33,516.32 110.61,514.69 109.42,513.53 111.07,513.29" fill="#4a4a4a" stroke="#4a4a4a" stroke-width="0.5" stroke-linejoin="round"/>
<polygon points="118.20,511.80 118.93,513.29 120.58,513.53 119.39,514.69 119.67,516.32 118.20,515.55 116.73,516.32 117.01,514.69 115.82,513.53 117.47,513.29" fill="#4a4a4a" stroke="#4a4a4a" stroke-width="0.5" stroke-linejoin="round"/>
<polygon points="124.60,511.80 125.33,513.29 126.98,513.53 125.79,514.69 126.07,516.32 124.60,515.55 123.13,516.32 123.41,514.69 122.22,513.53 123.87,513.29" fill="#4a4a4a" stroke="#4a4a4a" stroke-width="0.5" stroke-linejoin="round"/>
<polygon points="135.25,471.60 135.98,473.09 137.63,473.33 136.44,474.49 136.72,476.12 135.25,475.35 133.78,476.12 134.06,474.49 132.87,473.33 134.52,473.09" fill="#4a4a4a" stroke="#4a4a4a" stroke-width="0.5" stroke-linejoin="round"/>
<polygon points="141.65,471.60 142.38,473.09 144.03,473.33 142.84,474.49 143.12,476.12 141.65,475.35 140.18,476.12 140.46,474.49 139.27,473.33 140.92,473.09" fill="#4a4a4a" stroke="#4a4a4a" stroke-width="0.5" stroke-linejoin="round"/>
<polygon points="148.05,471.60 148.78,473.09 150.43,473.33 149.24,474.49 149.52,476.12 148.05,475.35 146.58,476.12 146.86,474.49 145.67,473.33 147.32,473.09" fill="#4a4a4a" stroke="#4a4a4a" stroke-width="0.5" stroke-linejoin="round"/>
<polygon points="158.70,482.20 159.43,483.69 161.08,483.93 159.89,485.09 160.17,486.72 158.70,485.95 157.23,486.72 157.51,485.09 156.32,483.93 157.97,483.69" fill="#4a4a4a" stroke="#4a4a4a" stroke-width="0.5" stroke-linejoin="round"/>
<polygon points="165.10,482.20 165.83,483.69 167.48,483.93 166.29,485.09 166.57,486.72 165.10,485.95 163.63,486.72 163.91,485.09 162.72,483.93 164.37,483.69" fill="#4a4a4a" stroke="#4a4a4a" stroke-width="0.5" stroke-linejoin="round"/>
<polygon points="171.50,482.20 172.23,483.69 173.88,483.93 172.69,485.09 172.97,486.72 171.50,485.95 170.03,486.72 170.31,485.09 169.12,483.93 170.77,483.69" fill="#4a4a4a" stroke="#4a4a4a" stroke-width="0.5" stroke-linejoin="round"/>
<polygon points="182.15,492.80 182.88,494.29 184.53,494.53 183.34,495.69 183.62,497.32 182.15,496.55 180.68,497.32 180.96,495.69 179.77,494.53 181.42,494.29" fill="#4a4a4a" stroke="#4a4a4a" stroke-width="0.5" stroke-linejoin="round"/>
<polygon points="188.55,492.80 189.28,494.29 190.93,494.53 189.74,495.69 190.02,497.32 188.55,496.55 187.08,497.32 187.36,495.69 186.17,494.53 187.82,494.29" fill="#4a4a4a" stroke="#4a4a4a" stroke-width="0.5" stroke-linejoin="round"/>
<polygon points="194.95,492.80 195.68,494.29 197.33,494.53 196.14,495.69 196.42,497.32 194.95,496.55 193.48,497.32 193.76,495.69 192.57,494.53 194.22,494.29" fill="#4a4a4a" stroke="#4a4a4a" stroke-width="0.5" stroke-linejoin="round"/>
<polygon points="205.60,501.10 206.33,502.59 207.98,502.83 206.79,503.99 207.07,505.62 205.60,504.85 204.13,505.62 204.41,503.99 203.22,502.83 204.87,502.59" fill="#4a4a4a" stroke="#4a4a4a" stroke-width="0.5" stroke-linejoin="round"/>
<polygon points="212.00,501.10 212.73,502.59 214.38,502.83 213.19,503.99 213.47,505.62 212.00,504.85 210.53,505.62 210.81,503.99 209.62,502.83 211.27,502.59" fill="#4a4a4a" stroke="#4a4a4a" stroke-width="0.5" stroke-linejoin="round"/>
<polygon points="218.40,501.10 219.13,502.59 220.78,502.83 219.59,503.99 219.87,505.62 218.40,504.85 216.93,505.62 217.21,503.99 216.02,502.83 217.67,502.59" fill="#4a4a4a" stroke="#4a4a4a" stroke-width="0.5" stroke-linejoin="round"/>
<polygon points="229.05,501.80 229.78,503.29 231.43,503.53 230.24,504.69 230.52,506.32 229.05,505.55 227.58,506.32 227.86,504.69 226.67,503.53 228.32,503.29" fill="#4a4a4a" stroke="#4a4a4a" stroke-width="0.5" stroke-linejoin="round"/>
<polygon points="235.45,501.80 236.18,503.29 237.83,503.53 236.64,504.69 236.92,506.32 235.45,505.55 233.98,506.32 234.26,504.69 233.07,503.53 234.72,503.29" fill="#4a4a4a" stroke="#4a4a4a" stroke-width="0.5" stroke-linejoin="round"/>
<polygon points="241.85,501.80 242.58,503.29 244.23,503.53 243.04,504.69 243.32,506.32 241.85,505.55 240.38,506.32 240.66,504.69 239.47,503.53 241.12,503.29" fill="#4a4a4a" stroke="#4a4a4a" stroke-width="0.5" stroke-linejoin="round"/>
<text x="97.35" y="536.10" font-family="'Liberation Serif', serif" font-size="11.2" font-weight="bold" text-anchor="end" fill="#111" transform="rotate(-45 97.35 536.10)" stroke="#111" stroke-width="0.22">Control</text>
<text x="120.80" y="536.10" font-family="'Liberation Serif', serif" font-size="11.2" font-weight="bold" text-anchor="end" fill="#111" transform="rotate(-45 120.80 536.10)" stroke="#111" stroke-width="0.22">Vancomycin</text>
<text x="144.25" y="536.10" font-family="'Liberation Serif', serif" font-size="11.2" font-weight="bold" text-anchor="end" fill="#111" transform="rotate(-45 144.25 536.10)" stroke="#111" stroke-width="0.22">5 <tspan font-weight="normal">&#956;</tspan>M</text>
<text x="167.70" y="536.10" font-family="'Liberation Serif', serif" font-size="11.2" font-weight="bold" text-anchor="end" fill="#111" transform="rotate(-45 167.70 536.10)" stroke="#111" stroke-width="0.22">25 <tspan font-weight="normal">&#956;</tspan>M</text>
<text x="191.15" y="536.10" font-family="'Liberation Serif', serif" font-size="11.2" font-weight="bold" text-anchor="end" fill="#111" transform="rotate(-45 191.15 536.10)" stroke="#111" stroke-width="0.22">50 <tspan font-weight="normal">&#956;</tspan>M</text>
<text x="214.60" y="536.10" font-family="'Liberation Serif', serif" font-size="11.2" font-weight="bold" text-anchor="end" fill="#111" transform="rotate(-45 214.60 536.10)" stroke="#111" stroke-width="0.22">100 <tspan font-weight="normal">&#956;</tspan>M</text>
<text x="238.05" y="536.10" font-family="'Liberation Serif', serif" font-size="11.2" font-weight="bold" text-anchor="end" fill="#111" transform="rotate(-45 238.05 536.10)" stroke="#111" stroke-width="0.22">200 <tspan font-weight="normal">&#956;</tspan>M</text>
<text x="46.50" y="480.60" font-family="'Liberation Serif', serif" font-size="11.2" font-weight="bold" text-anchor="middle" fill="#111" transform="rotate(-90 46.50 480.60)" stroke="#111" stroke-width="0.22">Adhesion (%)</text>
<text x="138.90" y="438.40" font-family="'Liberation Serif', serif" font-size="13.8" font-weight="bold" text-anchor="start" fill="#111" stroke="#111" stroke-width="0.22">Newman</text>
<rect x="252.00" y="446.40" width="9.50" height="9.45" fill="#0c0c0c"/>
<rect x="252.00" y="455.85" width="9.50" height="9.45" fill="#a8a8a8"/>
<rect x="252.00" y="465.30" width="9.50" height="9.45" fill="#7a7a7a"/>
<text x="266.40" y="455.30" font-family="'Liberation Serif', serif" font-size="11" font-weight="normal" text-anchor="start" fill="#111" stroke="#111" stroke-width="0.28">1.5 h</text>
<text x="266.40" y="464.75" font-family="'Liberation Serif', serif" font-size="11" font-weight="normal" text-anchor="start" fill="#111" stroke="#111" stroke-width="0.28">3 h</text>
<text x="266.40" y="474.20" font-family="'Liberation Serif', serif" font-size="11" font-weight="normal" text-anchor="start" fill="#111" stroke="#111" stroke-width="0.28">6 h</text>
<rect x="84.00" y="624.30" width="4.90" height="53.50" fill="#0c0c0c"/>
<line x1="86.45" y1="620.55" x2="86.45" y2="628.04" stroke="#000" stroke-width="1.0"/>
<line x1="85.25" y1="620.55" x2="87.65" y2="620.55" stroke="#000" stroke-width="1.0"/>
<line x1="85.25" y1="628.04" x2="87.65" y2="628.04" stroke="#000" stroke-width="1.0"/>
<rect x="90.60" y="624.30" width="4.90" height="53.50" fill="#a8a8a8"/>
<line x1="93.05" y1="621.62" x2="93.05" y2="626.97" stroke="#000" stroke-width="1.0"/>
<line x1="91.85" y1="621.62" x2="94.25" y2="621.62" stroke="#000" stroke-width="1.0"/>
<line x1="91.85" y1="626.97" x2="94.25" y2="626.97" stroke="#000" stroke-width="1.0"/>
<rect x="97.20" y="624.30" width="4.90" height="53.50" fill="#7a7a7a"/>
<line x1="99.65" y1="621.62" x2="99.65" y2="626.97" stroke="#000" stroke-width="1.0"/>
<line x1="98.45" y1="621.62" x2="100.85" y2="621.62" stroke="#000" stroke-width="1.0"/>
<line x1="98.45" y1="626.97" x2="100.85" y2="626.97" stroke="#000" stroke-width="1.0"/>
<rect x="107.35" y="672.08" width="4.90" height="5.72" fill="#0c0c0c"/>
<line x1="109.80" y1="671.01" x2="109.80" y2="673.15" stroke="#000" stroke-width="1.0"/>
<line x1="108.60" y1="671.01" x2="111.00" y2="671.01" stroke="#000" stroke-width="1.0"/>
<line x1="108.60" y1="673.15" x2="111.00" y2="673.15" stroke="#000" stroke-width="1.0"/>
<rect x="113.95" y="677.26" width="4.90" height="0.53" fill="#a8a8a8"/>
<line x1="116.40" y1="677.00" x2="116.40" y2="677.53" stroke="#000" stroke-width="1.0"/>
<line x1="115.20" y1="677.00" x2="117.60" y2="677.00" stroke="#000" stroke-width="1.0"/>
<line x1="115.20" y1="677.53" x2="117.60" y2="677.53" stroke="#000" stroke-width="1.0"/>
<rect x="120.55" y="676.73" width="4.90" height="1.07" fill="#7a7a7a"/>
<line x1="123.00" y1="676.46" x2="123.00" y2="677.00" stroke="#000" stroke-width="1.0"/>
<line x1="121.80" y1="676.46" x2="124.20" y2="676.46" stroke="#000" stroke-width="1.0"/>
<line x1="121.80" y1="677.00" x2="124.20" y2="677.00" stroke="#000" stroke-width="1.0"/>
<rect x="130.70" y="639.28" width="4.90" height="38.52" fill="#0c0c0c"/>
<line x1="133.15" y1="632.32" x2="133.15" y2="646.24" stroke="#000" stroke-width="1.0"/>
<line x1="131.95" y1="632.32" x2="134.35" y2="632.32" stroke="#000" stroke-width="1.0"/>
<line x1="131.95" y1="646.24" x2="134.35" y2="646.24" stroke="#000" stroke-width="1.0"/>
<rect x="137.30" y="643.02" width="4.90" height="34.77" fill="#a8a8a8"/>
<line x1="139.75" y1="640.35" x2="139.75" y2="645.70" stroke="#000" stroke-width="1.0"/>
<line x1="138.55" y1="640.35" x2="140.95" y2="640.35" stroke="#000" stroke-width="1.0"/>
<line x1="138.55" y1="645.70" x2="140.95" y2="645.70" stroke="#000" stroke-width="1.0"/>
<rect x="143.90" y="643.56" width="4.90" height="34.24" fill="#7a7a7a"/>
<line x1="146.35" y1="639.28" x2="146.35" y2="647.84" stroke="#000" stroke-width="1.0"/>
<line x1="145.15" y1="639.28" x2="147.55" y2="639.28" stroke="#000" stroke-width="1.0"/>
<line x1="145.15" y1="647.84" x2="147.55" y2="647.84" stroke="#000" stroke-width="1.0"/>
<rect x="154.05" y="650.89" width="4.90" height="26.91" fill="#0c0c0c"/>
<line x1="156.50" y1="646.07" x2="156.50" y2="655.70" stroke="#000" stroke-width="1.0"/>
<line x1="155.30" y1="646.07" x2="157.70" y2="646.07" stroke="#000" stroke-width="1.0"/>
<line x1="155.30" y1="655.70" x2="157.70" y2="655.70" stroke="#000" stroke-width="1.0"/>
<rect x="160.65" y="645.70" width="4.90" height="32.10" fill="#a8a8a8"/>
<line x1="163.10" y1="643.02" x2="163.10" y2="648.37" stroke="#000" stroke-width="1.0"/>
<line x1="161.90" y1="643.02" x2="164.30" y2="643.02" stroke="#000" stroke-width="1.0"/>
<line x1="161.90" y1="648.37" x2="164.30" y2="648.37" stroke="#000" stroke-width="1.0"/>
<rect x="167.25" y="645.70" width="4.90" height="32.10" fill="#7a7a7a"/>
<line x1="169.70" y1="642.49" x2="169.70" y2="648.91" stroke="#000" stroke-width="1.0"/>
<line x1="168.50" y1="642.49" x2="170.90" y2="642.49" stroke="#000" stroke-width="1.0"/>
<line x1="168.50" y1="648.91" x2="170.90" y2="648.91" stroke="#000" stroke-width="1.0"/>
<rect x="177.40" y="661.96" width="4.90" height="15.84" fill="#0c0c0c"/>
<line x1="179.85" y1="660.36" x2="179.85" y2="663.57" stroke="#000" stroke-width="1.0"/>
<line x1="178.65" y1="660.36" x2="181.05" y2="660.36" stroke="#000" stroke-width="1.0"/>
<line x1="178.65" y1="663.57" x2="181.05" y2="663.57" stroke="#000" stroke-width="1.0"/>
<rect x="184.00" y="661.86" width="4.90" height="15.94" fill="#a8a8a8"/>
<line x1="186.45" y1="661.32" x2="186.45" y2="662.39" stroke="#000" stroke-width="1.0"/>
<line x1="185.25" y1="661.32" x2="187.65" y2="661.32" stroke="#000" stroke-width="1.0"/>
<line x1="185.25" y1="662.39" x2="187.65" y2="662.39" stroke="#000" stroke-width="1.0"/>
<rect x="190.60" y="655.33" width="4.90" height="22.47" fill="#7a7a7a"/>
<line x1="193.05" y1="652.12" x2="193.05" y2="658.54" stroke="#000" stroke-width="1.0"/>
<line x1="191.85" y1="652.12" x2="194.25" y2="652.12" stroke="#000" stroke-width="1.0"/>
<line x1="191.85" y1="658.54" x2="194.25" y2="658.54" stroke="#000" stroke-width="1.0"/>
<rect x="200.75" y="665.50" width="4.90" height="12.30" fill="#0c0c0c"/>
<line x1="203.20" y1="663.36" x2="203.20" y2="667.63" stroke="#000" stroke-width="1.0"/>
<line x1="202.00" y1="663.36" x2="204.40" y2="663.36" stroke="#000" stroke-width="1.0"/>
<line x1="202.00" y1="667.63" x2="204.40" y2="667.63" stroke="#000" stroke-width="1.0"/>
<rect x="207.35" y="664.69" width="4.90" height="13.11" fill="#a8a8a8"/>
<line x1="209.80" y1="663.62" x2="209.80" y2="665.76" stroke="#000" stroke-width="1.0"/>
<line x1="208.60" y1="663.62" x2="211.00" y2="663.62" stroke="#000" stroke-width="1.0"/>
<line x1="208.60" y1="665.76" x2="211.00" y2="665.76" stroke="#000" stroke-width="1.0"/>
<rect x="213.95" y="664.42" width="4.90" height="13.38" fill="#7a7a7a"/>
<line x1="216.40" y1="662.28" x2="216.40" y2="666.56" stroke="#000" stroke-width="1.0"/>
<line x1="215.20" y1="662.28" x2="217.60" y2="662.28" stroke="#000" stroke-width="1.0"/>
<line x1="215.20" y1="666.56" x2="217.60" y2="666.56" stroke="#000" stroke-width="1.0"/>
<rect x="224.10" y="665.12" width="4.90" height="12.68" fill="#0c0c0c"/>
<line x1="226.55" y1="662.45" x2="226.55" y2="667.80" stroke="#000" stroke-width="1.0"/>
<line x1="225.35" y1="662.45" x2="227.75" y2="662.45" stroke="#000" stroke-width="1.0"/>
<line x1="225.35" y1="667.80" x2="227.75" y2="667.80" stroke="#000" stroke-width="1.0"/>
<rect x="230.70" y="666.83" width="4.90" height="10.97" fill="#a8a8a8"/>
<line x1="233.15" y1="665.76" x2="233.15" y2="667.90" stroke="#000" stroke-width="1.0"/>
<line x1="231.95" y1="665.76" x2="234.35" y2="665.76" stroke="#000" stroke-width="1.0"/>
<line x1="231.95" y1="667.90" x2="234.35" y2="667.90" stroke="#000" stroke-width="1.0"/>
<rect x="237.30" y="667.10" width="4.90" height="10.70" fill="#7a7a7a"/>
<line x1="239.75" y1="665.49" x2="239.75" y2="668.70" stroke="#000" stroke-width="1.0"/>
<line x1="238.55" y1="665.49" x2="240.95" y2="665.49" stroke="#000" stroke-width="1.0"/>
<line x1="238.55" y1="668.70" x2="240.95" y2="668.70" stroke="#000" stroke-width="1.0"/>
<line x1="80.50" y1="597.70" x2="80.50" y2="678.30" stroke="#333" stroke-width="1.3"/>
<line x1="78.00" y1="597.70" x2="80.50" y2="597.70" stroke="#333" stroke-width="1.3"/>
<text x="77.20" y="601.30" font-family="'Liberation Serif', serif" font-size="10.5" font-weight="bold" text-anchor="end" fill="#111" stroke="#111" stroke-width="0.22">150</text>
<line x1="78.00" y1="624.30" x2="80.50" y2="624.30" stroke="#333" stroke-width="1.3"/>
<text x="77.20" y="627.90" font-family="'Liberation Serif', serif" font-size="10.5" font-weight="bold" text-anchor="end" fill="#111" stroke="#111" stroke-width="0.22">100</text>
<line x1="78.00" y1="651.30" x2="80.50" y2="651.30" stroke="#333" stroke-width="1.3"/>
<text x="77.20" y="654.90" font-family="'Liberation Serif', serif" font-size="10.5" font-weight="bold" text-anchor="end" fill="#111" stroke="#111" stroke-width="0.22">50</text>
<line x1="78.00" y1="677.80" x2="80.50" y2="677.80" stroke="#333" stroke-width="1.3"/>
<text x="77.20" y="681.40" font-family="'Liberation Serif', serif" font-size="10.5" font-weight="bold" text-anchor="end" fill="#111" stroke="#111" stroke-width="0.22">0</text>
<line x1="80.00" y1="677.80" x2="246.20" y2="677.80" stroke="#333" stroke-width="1.3"/>
<line x1="93.05" y1="677.80" x2="93.05" y2="680.30" stroke="#333" stroke-width="1.3"/>
<line x1="116.40" y1="677.80" x2="116.40" y2="680.30" stroke="#333" stroke-width="1.3"/>
<line x1="139.75" y1="677.80" x2="139.75" y2="680.30" stroke="#333" stroke-width="1.3"/>
<line x1="163.10" y1="677.80" x2="163.10" y2="680.30" stroke="#333" stroke-width="1.3"/>
<line x1="186.45" y1="677.80" x2="186.45" y2="680.30" stroke="#333" stroke-width="1.3"/>
<line x1="209.80" y1="677.80" x2="209.80" y2="680.30" stroke="#333" stroke-width="1.3"/>
<line x1="233.15" y1="677.80" x2="233.15" y2="680.30" stroke="#333" stroke-width="1.3"/>
<polygon points="110.90,666.40 111.63,667.89 113.28,668.13 112.09,669.29 112.37,670.92 110.90,670.15 109.43,670.92 109.71,669.29 108.52,668.13 110.17,667.89" fill="#4a4a4a" stroke="#4a4a4a" stroke-width="0.5" stroke-linejoin="round"/>
<polygon points="117.30,666.40 118.03,667.89 119.68,668.13 118.49,669.29 118.77,670.92 117.30,670.15 115.83,670.92 116.11,669.29 114.92,668.13 116.57,667.89" fill="#4a4a4a" stroke="#4a4a4a" stroke-width="0.5" stroke-linejoin="round"/>
<polygon points="123.70,666.40 124.43,667.89 126.08,668.13 124.89,669.29 125.17,670.92 123.70,670.15 122.23,670.92 122.51,669.29 121.32,668.13 122.97,667.89" fill="#4a4a4a" stroke="#4a4a4a" stroke-width="0.5" stroke-linejoin="round"/>
<polygon points="134.25,625.40 134.98,626.89 136.63,627.13 135.44,628.29 135.72,629.92 134.25,629.15 132.78,629.92 133.06,628.29 131.87,627.13 133.52,626.89" fill="#4a4a4a" stroke="#4a4a4a" stroke-width="0.5" stroke-linejoin="round"/>
<polygon points="140.65,625.40 141.38,626.89 143.03,627.13 141.84,628.29 142.12,629.92 140.65,629.15 139.18,629.92 139.46,628.29 138.27,627.13 139.92,626.89" fill="#4a4a4a" stroke="#4a4a4a" stroke-width="0.5" stroke-linejoin="round"/>
<polygon points="147.05,625.40 147.78,626.89 149.43,627.13 148.24,628.29 148.52,629.92 147.05,629.15 145.58,629.92 145.86,628.29 144.67,627.13 146.32,626.89" fill="#4a4a4a" stroke="#4a4a4a" stroke-width="0.5" stroke-linejoin="round"/>
<polygon points="157.60,636.00 158.33,637.49 159.98,637.73 158.79,638.89 159.07,640.52 157.60,639.75 156.13,640.52 156.41,638.89 155.22,637.73 156.87,637.49" fill="#4a4a4a" stroke="#4a4a4a" stroke-width="0.5" stroke-linejoin="round"/>
<polygon points="164.00,636.00 164.73,637.49 166.38,637.73 165.19,638.89 165.47,640.52 164.00,639.75 162.53,640.52 162.81,638.89 161.62,637.73 163.27,637.49" fill="#4a4a4a" stroke="#4a4a4a" stroke-width="0.5" stroke-linejoin="round"/>
<polygon points="170.40,636.00 171.13,637.49 172.78,637.73 171.59,638.89 171.87,640.52 170.40,639.75 168.93,640.52 169.21,638.89 168.02,637.73 169.67,637.49" fill="#4a4a4a" stroke="#4a4a4a" stroke-width="0.5" stroke-linejoin="round"/>
<polygon points="180.95,647.10 181.68,648.59 183.33,648.83 182.14,649.99 182.42,651.62 180.95,650.85 179.48,651.62 179.76,649.99 178.57,648.83 180.22,648.59" fill="#4a4a4a" stroke="#4a4a4a" stroke-width="0.5" stroke-linejoin="round"/>
<polygon points="187.35,647.10 188.08,648.59 189.73,648.83 188.54,649.99 188.82,651.62 187.35,650.85 185.88,651.62 186.16,649.99 184.97,648.83 186.62,648.59" fill="#4a4a4a" stroke="#4a4a4a" stroke-width="0.5" stroke-linejoin="round"/>
<polygon points="193.75,647.10 194.48,648.59 196.13,648.83 194.94,649.99 195.22,651.62 193.75,650.85 192.28,651.62 192.56,649.99 191.37,648.83 193.02,648.59" fill="#4a4a4a" stroke="#4a4a4a" stroke-width="0.5" stroke-linejoin="round"/>
<polygon points="204.30,655.60 205.03,657.09 206.68,657.33 205.49,658.49 205.77,660.12 204.30,659.35 202.83,660.12 203.11,658.49 201.92,657.33 203.57,657.09" fill="#4a4a4a" stroke="#4a4a4a" stroke-width="0.5" stroke-linejoin="round"/>
<polygon points="210.70,655.60 211.43,657.09 213.08,657.33 211.89,658.49 212.17,660.12 210.70,659.35 209.23,660.12 209.51,658.49 208.32,657.33 209.97,657.09" fill="#4a4a4a" stroke="#4a4a4a" stroke-width="0.5" stroke-linejoin="round"/>
<polygon points="217.10,655.60 217.83,657.09 219.48,657.33 218.29,658.49 218.57,660.12 217.10,659.35 215.63,660.12 215.91,658.49 214.72,657.33 216.37,657.09" fill="#4a4a4a" stroke="#4a4a4a" stroke-width="0.5" stroke-linejoin="round"/>
<polygon points="227.65,655.80 228.38,657.29 230.03,657.53 228.84,658.69 229.12,660.32 227.65,659.55 226.18,660.32 226.46,658.69 225.27,657.53 226.92,657.29" fill="#4a4a4a" stroke="#4a4a4a" stroke-width="0.5" stroke-linejoin="round"/>
<polygon points="234.05,655.80 234.78,657.29 236.43,657.53 235.24,658.69 235.52,660.32 234.05,659.55 232.58,660.32 232.86,658.69 231.67,657.53 233.32,657.29" fill="#4a4a4a" stroke="#4a4a4a" stroke-width="0.5" stroke-linejoin="round"/>
<polygon points="240.45,655.80 241.18,657.29 242.83,657.53 241.64,658.69 241.92,660.32 240.45,659.55 238.98,660.32 239.26,658.69 238.07,657.53 239.72,657.29" fill="#4a4a4a" stroke="#4a4a4a" stroke-width="0.5" stroke-linejoin="round"/>
<text x="96.55" y="690.00" font-family="'Liberation Serif', serif" font-size="11.2" font-weight="bold" text-anchor="end" fill="#111" transform="rotate(-45 96.55 690.00)" stroke="#111" stroke-width="0.22">Control</text>
<text x="119.90" y="690.00" font-family="'Liberation Serif', serif" font-size="11.2" font-weight="bold" text-anchor="end" fill="#111" transform="rotate(-45 119.90 690.00)" stroke="#111" stroke-width="0.22">Vancomycin</text>
<text x="143.25" y="690.00" font-family="'Liberation Serif', serif" font-size="11.2" font-weight="bold" text-anchor="end" fill="#111" transform="rotate(-45 143.25 690.00)" stroke="#111" stroke-width="0.22">5 <tspan font-weight="normal">&#956;</tspan>M</text>
<text x="166.60" y="690.00" font-family="'Liberation Serif', serif" font-size="11.2" font-weight="bold" text-anchor="end" fill="#111" transform="rotate(-45 166.60 690.00)" stroke="#111" stroke-width="0.22">25 <tspan font-weight="normal">&#956;</tspan>M</text>
<text x="189.95" y="690.00" font-family="'Liberation Serif', serif" font-size="11.2" font-weight="bold" text-anchor="end" fill="#111" transform="rotate(-45 189.95 690.00)" stroke="#111" stroke-width="0.22">50 <tspan font-weight="normal">&#956;</tspan>M</text>
<text x="213.30" y="690.00" font-family="'Liberation Serif', serif" font-size="11.2" font-weight="bold" text-anchor="end" fill="#111" transform="rotate(-45 213.30 690.00)" stroke="#111" stroke-width="0.22">100 <tspan font-weight="normal">&#956;</tspan>M</text>
<text x="236.65" y="690.00" font-family="'Liberation Serif', serif" font-size="11.2" font-weight="bold" text-anchor="end" fill="#111" transform="rotate(-45 236.65 690.00)" stroke="#111" stroke-width="0.22">200 <tspan font-weight="normal">&#956;</tspan>M</text>
<text x="46.40" y="635.00" font-family="'Liberation Serif', serif" font-size="11.2" font-weight="bold" text-anchor="middle" fill="#111" transform="rotate(-90 46.40 635.00)" stroke="#111" stroke-width="0.22">Adhesion (%)</text>
<text x="126.30" y="596.70" font-family="'Liberation Serif', serif" font-size="14.1" font-weight="bold" text-anchor="start" fill="#111" stroke="#111" stroke-width="0.22">ATCC 6538</text>
<rect x="251.10" y="600.80" width="9.50" height="9.35" fill="#0c0c0c"/>
<rect x="251.10" y="610.15" width="9.50" height="9.35" fill="#a8a8a8"/>
<rect x="251.10" y="619.50" width="9.50" height="9.35" fill="#7a7a7a"/>
<text x="265.30" y="609.40" font-family="'Liberation Serif', serif" font-size="11" font-weight="normal" text-anchor="start" fill="#111" stroke="#111" stroke-width="0.28">1.5 h</text>
<text x="265.30" y="618.75" font-family="'Liberation Serif', serif" font-size="11" font-weight="normal" text-anchor="start" fill="#111" stroke="#111" stroke-width="0.28">3 h</text>
<text x="265.30" y="628.10" font-family="'Liberation Serif', serif" font-size="11" font-weight="normal" text-anchor="start" fill="#111" stroke="#111" stroke-width="0.28">6 h</text>
<rect x="435.30" y="469.70" width="4.90" height="53.60" fill="#0c0c0c"/>
<line x1="437.75" y1="469.16" x2="437.75" y2="470.24" stroke="#000" stroke-width="1.0"/>
<line x1="436.55" y1="469.16" x2="438.95" y2="469.16" stroke="#000" stroke-width="1.0"/>
<line x1="436.55" y1="470.24" x2="438.95" y2="470.24" stroke="#000" stroke-width="1.0"/>
<rect x="441.90" y="469.70" width="4.90" height="53.60" fill="#a8a8a8"/>
<line x1="444.35" y1="468.09" x2="444.35" y2="471.31" stroke="#000" stroke-width="1.0"/>
<line x1="443.15" y1="468.09" x2="445.55" y2="468.09" stroke="#000" stroke-width="1.0"/>
<line x1="443.15" y1="471.31" x2="445.55" y2="471.31" stroke="#000" stroke-width="1.0"/>
<rect x="448.50" y="469.70" width="4.90" height="53.60" fill="#7a7a7a"/>
<line x1="450.95" y1="464.34" x2="450.95" y2="475.06" stroke="#000" stroke-width="1.0"/>
<line x1="449.75" y1="464.34" x2="452.15" y2="464.34" stroke="#000" stroke-width="1.0"/>
<line x1="449.75" y1="475.06" x2="452.15" y2="475.06" stroke="#000" stroke-width="1.0"/>
<rect x="458.75" y="517.94" width="4.90" height="5.36" fill="#0c0c0c"/>
<line x1="461.20" y1="517.40" x2="461.20" y2="518.48" stroke="#000" stroke-width="1.0"/>
<line x1="460.00" y1="517.40" x2="462.40" y2="517.40" stroke="#000" stroke-width="1.0"/>
<line x1="460.00" y1="518.48" x2="462.40" y2="518.48" stroke="#000" stroke-width="1.0"/>
<rect x="465.35" y="518.48" width="4.90" height="4.82" fill="#a8a8a8"/>
<line x1="467.80" y1="517.94" x2="467.80" y2="519.01" stroke="#000" stroke-width="1.0"/>
<line x1="466.60" y1="517.94" x2="469.00" y2="517.94" stroke="#000" stroke-width="1.0"/>
<line x1="466.60" y1="519.01" x2="469.00" y2="519.01" stroke="#000" stroke-width="1.0"/>
<rect x="471.95" y="519.55" width="4.90" height="3.75" fill="#7a7a7a"/>
<line x1="474.40" y1="519.01" x2="474.40" y2="520.08" stroke="#000" stroke-width="1.0"/>
<line x1="473.20" y1="519.01" x2="475.60" y2="519.01" stroke="#000" stroke-width="1.0"/>
<line x1="473.20" y1="520.08" x2="475.60" y2="520.08" stroke="#000" stroke-width="1.0"/>
<rect x="482.20" y="470.77" width="4.90" height="52.53" fill="#0c0c0c"/>
<line x1="484.65" y1="470.24" x2="484.65" y2="471.31" stroke="#000" stroke-width="1.0"/>
<line x1="483.45" y1="470.24" x2="485.85" y2="470.24" stroke="#000" stroke-width="1.0"/>
<line x1="483.45" y1="471.31" x2="485.85" y2="471.31" stroke="#000" stroke-width="1.0"/>
<rect x="488.80" y="467.56" width="4.90" height="55.74" fill="#a8a8a8"/>
<line x1="491.25" y1="465.95" x2="491.25" y2="469.16" stroke="#000" stroke-width="1.0"/>
<line x1="490.05" y1="465.95" x2="492.45" y2="465.95" stroke="#000" stroke-width="1.0"/>
<line x1="490.05" y1="469.16" x2="492.45" y2="469.16" stroke="#000" stroke-width="1.0"/>
<rect x="495.40" y="471.84" width="4.90" height="51.46" fill="#7a7a7a"/>
<line x1="497.85" y1="469.70" x2="497.85" y2="473.99" stroke="#000" stroke-width="1.0"/>
<line x1="496.65" y1="469.70" x2="499.05" y2="469.70" stroke="#000" stroke-width="1.0"/>
<line x1="496.65" y1="473.99" x2="499.05" y2="473.99" stroke="#000" stroke-width="1.0"/>
<rect x="505.65" y="472.65" width="4.90" height="50.65" fill="#0c0c0c"/>
<line x1="508.10" y1="472.11" x2="508.10" y2="473.18" stroke="#000" stroke-width="1.0"/>
<line x1="506.90" y1="472.11" x2="509.30" y2="472.11" stroke="#000" stroke-width="1.0"/>
<line x1="506.90" y1="473.18" x2="509.30" y2="473.18" stroke="#000" stroke-width="1.0"/>
<rect x="512.25" y="463.27" width="4.90" height="60.03" fill="#a8a8a8"/>
<line x1="514.70" y1="461.12" x2="514.70" y2="465.41" stroke="#000" stroke-width="1.0"/>
<line x1="513.50" y1="461.12" x2="515.90" y2="461.12" stroke="#000" stroke-width="1.0"/>
<line x1="513.50" y1="465.41" x2="515.90" y2="465.41" stroke="#000" stroke-width="1.0"/>
<rect x="518.85" y="472.65" width="4.90" height="50.65" fill="#7a7a7a"/>
<line x1="521.30" y1="468.90" x2="521.30" y2="476.40" stroke="#000" stroke-width="1.0"/>
<line x1="520.10" y1="468.90" x2="522.50" y2="468.90" stroke="#000" stroke-width="1.0"/>
<line x1="520.10" y1="476.40" x2="522.50" y2="476.40" stroke="#000" stroke-width="1.0"/>
<rect x="529.10" y="476.35" width="4.90" height="46.95" fill="#0c0c0c"/>
<line x1="531.55" y1="475.81" x2="531.55" y2="476.88" stroke="#000" stroke-width="1.0"/>
<line x1="530.35" y1="475.81" x2="532.75" y2="475.81" stroke="#000" stroke-width="1.0"/>
<line x1="530.35" y1="476.88" x2="532.75" y2="476.88" stroke="#000" stroke-width="1.0"/>
<rect x="535.70" y="465.41" width="4.90" height="57.89" fill="#a8a8a8"/>
<line x1="538.15" y1="464.61" x2="538.15" y2="466.22" stroke="#000" stroke-width="1.0"/>
<line x1="536.95" y1="464.61" x2="539.35" y2="464.61" stroke="#000" stroke-width="1.0"/>
<line x1="536.95" y1="466.22" x2="539.35" y2="466.22" stroke="#000" stroke-width="1.0"/>
<rect x="542.30" y="475.86" width="4.90" height="47.44" fill="#7a7a7a"/>
<line x1="544.75" y1="472.65" x2="544.75" y2="479.08" stroke="#000" stroke-width="1.0"/>
<line x1="543.55" y1="472.65" x2="545.95" y2="472.65" stroke="#000" stroke-width="1.0"/>
<line x1="543.55" y1="479.08" x2="545.95" y2="479.08" stroke="#000" stroke-width="1.0"/>
<rect x="552.55" y="477.36" width="4.90" height="45.94" fill="#0c0c0c"/>
<line x1="555.00" y1="476.83" x2="555.00" y2="477.90" stroke="#000" stroke-width="1.0"/>
<line x1="553.80" y1="476.83" x2="556.20" y2="476.83" stroke="#000" stroke-width="1.0"/>
<line x1="553.80" y1="477.90" x2="556.20" y2="477.90" stroke="#000" stroke-width="1.0"/>
<rect x="559.15" y="476.13" width="4.90" height="47.17" fill="#a8a8a8"/>
<line x1="561.60" y1="474.52" x2="561.60" y2="477.74" stroke="#000" stroke-width="1.0"/>
<line x1="560.40" y1="474.52" x2="562.80" y2="474.52" stroke="#000" stroke-width="1.0"/>
<line x1="560.40" y1="477.74" x2="562.80" y2="477.74" stroke="#000" stroke-width="1.0"/>
<rect x="565.75" y="479.35" width="4.90" height="43.95" fill="#7a7a7a"/>
<line x1="568.20" y1="478.54" x2="568.20" y2="480.15" stroke="#000" stroke-width="1.0"/>
<line x1="567.00" y1="478.54" x2="569.40" y2="478.54" stroke="#000" stroke-width="1.0"/>
<line x1="567.00" y1="480.15" x2="569.40" y2="480.15" stroke="#000" stroke-width="1.0"/>
<rect x="576.00" y="478.92" width="4.90" height="44.38" fill="#0c0c0c"/>
<line x1="578.45" y1="478.38" x2="578.45" y2="479.46" stroke="#000" stroke-width="1.0"/>
<line x1="577.25" y1="478.38" x2="579.65" y2="478.38" stroke="#000" stroke-width="1.0"/>
<line x1="577.25" y1="479.46" x2="579.65" y2="479.46" stroke="#000" stroke-width="1.0"/>
<rect x="582.60" y="480.10" width="4.90" height="43.20" fill="#a8a8a8"/>
<line x1="585.05" y1="478.49" x2="585.05" y2="481.71" stroke="#000" stroke-width="1.0"/>
<line x1="583.85" y1="478.49" x2="586.25" y2="478.49" stroke="#000" stroke-width="1.0"/>
<line x1="583.85" y1="481.71" x2="586.25" y2="481.71" stroke="#000" stroke-width="1.0"/>
<rect x="589.20" y="482.56" width="4.90" height="40.74" fill="#7a7a7a"/>
<line x1="591.65" y1="479.88" x2="591.65" y2="485.24" stroke="#000" stroke-width="1.0"/>
<line x1="590.45" y1="479.88" x2="592.85" y2="479.88" stroke="#000" stroke-width="1.0"/>
<line x1="590.45" y1="485.24" x2="592.85" y2="485.24" stroke="#000" stroke-width="1.0"/>
<line x1="431.60" y1="443.30" x2="431.60" y2="523.80" stroke="#333" stroke-width="1.3"/>
<line x1="429.10" y1="443.30" x2="431.60" y2="443.30" stroke="#333" stroke-width="1.3"/>
<text x="428.20" y="446.90" font-family="'Liberation Serif', serif" font-size="10.5" font-weight="bold" text-anchor="end" fill="#111" stroke="#111" stroke-width="0.22">150</text>
<line x1="429.10" y1="469.70" x2="431.60" y2="469.70" stroke="#333" stroke-width="1.3"/>
<text x="428.20" y="473.30" font-family="'Liberation Serif', serif" font-size="10.5" font-weight="bold" text-anchor="end" fill="#111" stroke="#111" stroke-width="0.22">100</text>
<line x1="429.10" y1="496.70" x2="431.60" y2="496.70" stroke="#333" stroke-width="1.3"/>
<text x="428.20" y="500.30" font-family="'Liberation Serif', serif" font-size="10.5" font-weight="bold" text-anchor="end" fill="#111" stroke="#111" stroke-width="0.22">50</text>
<line x1="429.10" y1="523.30" x2="431.60" y2="523.30" stroke="#333" stroke-width="1.3"/>
<text x="428.20" y="526.90" font-family="'Liberation Serif', serif" font-size="10.5" font-weight="bold" text-anchor="end" fill="#111" stroke="#111" stroke-width="0.22">0</text>
<line x1="431.10" y1="523.30" x2="598.10" y2="523.30" stroke="#333" stroke-width="1.3"/>
<line x1="444.35" y1="523.30" x2="444.35" y2="525.80" stroke="#333" stroke-width="1.3"/>
<line x1="467.80" y1="523.30" x2="467.80" y2="525.80" stroke="#333" stroke-width="1.3"/>
<line x1="491.25" y1="523.30" x2="491.25" y2="525.80" stroke="#333" stroke-width="1.3"/>
<line x1="514.70" y1="523.30" x2="514.70" y2="525.80" stroke="#333" stroke-width="1.3"/>
<line x1="538.15" y1="523.30" x2="538.15" y2="525.80" stroke="#333" stroke-width="1.3"/>
<line x1="561.60" y1="523.30" x2="561.60" y2="525.80" stroke="#333" stroke-width="1.3"/>
<line x1="585.05" y1="523.30" x2="585.05" y2="525.80" stroke="#333" stroke-width="1.3"/>
<polygon points="462.30,511.80 463.03,513.29 464.68,513.53 463.49,514.69 463.77,516.32 462.30,515.55 460.83,516.32 461.11,514.69 459.92,513.53 461.57,513.29" fill="#4a4a4a" stroke="#4a4a4a" stroke-width="0.5" stroke-linejoin="round"/>
<polygon points="468.70,511.80 469.43,513.29 471.08,513.53 469.89,514.69 470.17,516.32 468.70,515.55 467.23,516.32 467.51,514.69 466.32,513.53 467.97,513.29" fill="#4a4a4a" stroke="#4a4a4a" stroke-width="0.5" stroke-linejoin="round"/>
<polygon points="475.10,511.80 475.83,513.29 477.48,513.53 476.29,514.69 476.57,516.32 475.10,515.55 473.63,516.32 473.91,514.69 472.72,513.53 474.37,513.29" fill="#4a4a4a" stroke="#4a4a4a" stroke-width="0.5" stroke-linejoin="round"/>
<text x="447.85" y="535.50" font-family="'Liberation Serif', serif" font-size="11.2" font-weight="bold" text-anchor="end" fill="#111" transform="rotate(-45 447.85 535.50)" stroke="#111" stroke-width="0.22">Control</text>
<text x="471.30" y="535.50" font-family="'Liberation Serif', serif" font-size="11.2" font-weight="bold" text-anchor="end" fill="#111" transform="rotate(-45 471.30 535.50)" stroke="#111" stroke-width="0.22">Vancomycin</text>
<text x="494.75" y="535.50" font-family="'Liberation Serif', serif" font-size="11.2" font-weight="bold" text-anchor="end" fill="#111" transform="rotate(-45 494.75 535.50)" stroke="#111" stroke-width="0.22">5 <tspan font-weight="normal">&#956;</tspan>M</text>
<text x="518.20" y="535.50" font-family="'Liberation Serif', serif" font-size="11.2" font-weight="bold" text-anchor="end" fill="#111" transform="rotate(-45 518.20 535.50)" stroke="#111" stroke-width="0.22">25 <tspan font-weight="normal">&#956;</tspan>M</text>
<text x="541.65" y="535.50" font-family="'Liberation Serif', serif" font-size="11.2" font-weight="bold" text-anchor="end" fill="#111" transform="rotate(-45 541.65 535.50)" stroke="#111" stroke-width="0.22">50 <tspan font-weight="normal">&#956;</tspan>M</text>
<text x="565.10" y="535.50" font-family="'Liberation Serif', serif" font-size="11.2" font-weight="bold" text-anchor="end" fill="#111" transform="rotate(-45 565.10 535.50)" stroke="#111" stroke-width="0.22">100 <tspan font-weight="normal">&#956;</tspan>M</text>
<text x="588.55" y="535.50" font-family="'Liberation Serif', serif" font-size="11.2" font-weight="bold" text-anchor="end" fill="#111" transform="rotate(-45 588.55 535.50)" stroke="#111" stroke-width="0.22">200 <tspan font-weight="normal">&#956;</tspan>M</text>
<text x="394.20" y="480.40" font-family="'Liberation Serif', serif" font-size="11.2" font-weight="bold" text-anchor="middle" fill="#111" transform="rotate(-90 394.20 480.40)" stroke="#111" stroke-width="0.22">Adhesion (%)</text>
<text x="488.30" y="441.40" font-family="'Liberation Serif', serif" font-size="13.8" font-weight="bold" text-anchor="start" fill="#111" stroke="#111" stroke-width="0.22">Newman</text>
<rect x="602.30" y="446.30" width="9.60" height="9.40" fill="#0c0c0c"/>
<rect x="602.30" y="455.70" width="9.60" height="9.40" fill="#a8a8a8"/>
<rect x="602.30" y="465.10" width="9.60" height="9.40" fill="#7a7a7a"/>
<text x="616.80" y="454.70" font-family="'Liberation Serif', serif" font-size="11" font-weight="normal" text-anchor="start" fill="#111" stroke="#111" stroke-width="0.28">1.5 h</text>
<text x="616.80" y="464.10" font-family="'Liberation Serif', serif" font-size="11" font-weight="normal" text-anchor="start" fill="#111" stroke="#111" stroke-width="0.28">3 h</text>
<text x="616.80" y="473.50" font-family="'Liberation Serif', serif" font-size="11" font-weight="normal" text-anchor="start" fill="#111" stroke="#111" stroke-width="0.28">6 h</text>
<rect x="436.30" y="628.40" width="4.90" height="52.60" fill="#0c0c0c"/>
<line x1="438.75" y1="626.30" x2="438.75" y2="630.50" stroke="#000" stroke-width="1.0"/>
<line x1="437.55" y1="626.30" x2="439.95" y2="626.30" stroke="#000" stroke-width="1.0"/>
<line x1="437.55" y1="630.50" x2="439.95" y2="630.50" stroke="#000" stroke-width="1.0"/>
<rect x="442.90" y="628.40" width="4.90" height="52.60" fill="#a8a8a8"/>
<line x1="445.35" y1="625.77" x2="445.35" y2="631.03" stroke="#000" stroke-width="1.0"/>
<line x1="444.15" y1="625.77" x2="446.55" y2="625.77" stroke="#000" stroke-width="1.0"/>
<line x1="444.15" y1="631.03" x2="446.55" y2="631.03" stroke="#000" stroke-width="1.0"/>
<rect x="449.50" y="628.40" width="4.90" height="52.60" fill="#7a7a7a"/>
<line x1="451.95" y1="624.72" x2="451.95" y2="632.08" stroke="#000" stroke-width="1.0"/>
<line x1="450.75" y1="624.72" x2="453.15" y2="624.72" stroke="#000" stroke-width="1.0"/>
<line x1="450.75" y1="632.08" x2="453.15" y2="632.08" stroke="#000" stroke-width="1.0"/>
<rect x="459.80" y="678.37" width="4.90" height="2.63" fill="#0c0c0c"/>
<line x1="462.25" y1="677.84" x2="462.25" y2="678.90" stroke="#000" stroke-width="1.0"/>
<line x1="461.05" y1="677.84" x2="463.45" y2="677.84" stroke="#000" stroke-width="1.0"/>
<line x1="461.05" y1="678.90" x2="463.45" y2="678.90" stroke="#000" stroke-width="1.0"/>
<rect x="466.40" y="679.95" width="4.90" height="1.05" fill="#a8a8a8"/>
<line x1="468.85" y1="679.68" x2="468.85" y2="680.21" stroke="#000" stroke-width="1.0"/>
<line x1="467.65" y1="679.68" x2="470.05" y2="679.68" stroke="#000" stroke-width="1.0"/>
<line x1="467.65" y1="680.21" x2="470.05" y2="680.21" stroke="#000" stroke-width="1.0"/>
<rect x="473.00" y="679.95" width="4.90" height="1.05" fill="#7a7a7a"/>
<line x1="475.45" y1="679.68" x2="475.45" y2="680.21" stroke="#000" stroke-width="1.0"/>
<line x1="474.25" y1="679.68" x2="476.65" y2="679.68" stroke="#000" stroke-width="1.0"/>
<line x1="474.25" y1="680.21" x2="476.65" y2="680.21" stroke="#000" stroke-width="1.0"/>
<rect x="483.30" y="622.88" width="4.90" height="58.12" fill="#0c0c0c"/>
<line x1="485.75" y1="622.35" x2="485.75" y2="623.40" stroke="#000" stroke-width="1.0"/>
<line x1="484.55" y1="622.35" x2="486.95" y2="622.35" stroke="#000" stroke-width="1.0"/>
<line x1="484.55" y1="623.40" x2="486.95" y2="623.40" stroke="#000" stroke-width="1.0"/>
<rect x="489.90" y="628.93" width="4.90" height="52.07" fill="#a8a8a8"/>
<line x1="492.35" y1="627.35" x2="492.35" y2="630.50" stroke="#000" stroke-width="1.0"/>
<line x1="491.15" y1="627.35" x2="493.55" y2="627.35" stroke="#000" stroke-width="1.0"/>
<line x1="491.15" y1="630.50" x2="493.55" y2="630.50" stroke="#000" stroke-width="1.0"/>
<rect x="496.50" y="622.88" width="4.90" height="58.12" fill="#7a7a7a"/>
<line x1="498.95" y1="621.30" x2="498.95" y2="624.45" stroke="#000" stroke-width="1.0"/>
<line x1="497.75" y1="621.30" x2="500.15" y2="621.30" stroke="#000" stroke-width="1.0"/>
<line x1="497.75" y1="624.45" x2="500.15" y2="624.45" stroke="#000" stroke-width="1.0"/>
<rect x="506.80" y="621.30" width="4.90" height="59.70" fill="#0c0c0c"/>
<line x1="509.25" y1="619.72" x2="509.25" y2="622.88" stroke="#000" stroke-width="1.0"/>
<line x1="508.05" y1="619.72" x2="510.45" y2="619.72" stroke="#000" stroke-width="1.0"/>
<line x1="508.05" y1="622.88" x2="510.45" y2="622.88" stroke="#000" stroke-width="1.0"/>
<rect x="513.40" y="629.45" width="4.90" height="51.55" fill="#a8a8a8"/>
<line x1="515.85" y1="627.87" x2="515.85" y2="631.03" stroke="#000" stroke-width="1.0"/>
<line x1="514.65" y1="627.87" x2="517.05" y2="627.87" stroke="#000" stroke-width="1.0"/>
<line x1="514.65" y1="631.03" x2="517.05" y2="631.03" stroke="#000" stroke-width="1.0"/>
<rect x="520.00" y="625.77" width="4.90" height="55.23" fill="#7a7a7a"/>
<line x1="522.45" y1="622.09" x2="522.45" y2="629.45" stroke="#000" stroke-width="1.0"/>
<line x1="521.25" y1="622.09" x2="523.65" y2="622.09" stroke="#000" stroke-width="1.0"/>
<line x1="521.25" y1="629.45" x2="523.65" y2="629.45" stroke="#000" stroke-width="1.0"/>
<rect x="530.30" y="620.51" width="4.90" height="60.49" fill="#0c0c0c"/>
<line x1="532.75" y1="619.98" x2="532.75" y2="621.04" stroke="#000" stroke-width="1.0"/>
<line x1="531.55" y1="619.98" x2="533.95" y2="619.98" stroke="#000" stroke-width="1.0"/>
<line x1="531.55" y1="621.04" x2="533.95" y2="621.04" stroke="#000" stroke-width="1.0"/>
<rect x="536.90" y="630.24" width="4.90" height="50.76" fill="#a8a8a8"/>
<line x1="539.35" y1="628.14" x2="539.35" y2="632.35" stroke="#000" stroke-width="1.0"/>
<line x1="538.15" y1="628.14" x2="540.55" y2="628.14" stroke="#000" stroke-width="1.0"/>
<line x1="538.15" y1="632.35" x2="540.55" y2="632.35" stroke="#000" stroke-width="1.0"/>
<rect x="543.50" y="620.51" width="4.90" height="60.49" fill="#7a7a7a"/>
<line x1="545.95" y1="617.88" x2="545.95" y2="623.14" stroke="#000" stroke-width="1.0"/>
<line x1="544.75" y1="617.88" x2="547.15" y2="617.88" stroke="#000" stroke-width="1.0"/>
<line x1="544.75" y1="623.14" x2="547.15" y2="623.14" stroke="#000" stroke-width="1.0"/>
<rect x="553.80" y="621.82" width="4.90" height="59.18" fill="#0c0c0c"/>
<line x1="556.25" y1="620.25" x2="556.25" y2="623.40" stroke="#000" stroke-width="1.0"/>
<line x1="555.05" y1="620.25" x2="557.45" y2="620.25" stroke="#000" stroke-width="1.0"/>
<line x1="555.05" y1="623.40" x2="557.45" y2="623.40" stroke="#000" stroke-width="1.0"/>
<rect x="560.40" y="629.45" width="4.90" height="51.55" fill="#a8a8a8"/>
<line x1="562.85" y1="627.87" x2="562.85" y2="631.03" stroke="#000" stroke-width="1.0"/>
<line x1="561.65" y1="627.87" x2="564.05" y2="627.87" stroke="#000" stroke-width="1.0"/>
<line x1="561.65" y1="631.03" x2="564.05" y2="631.03" stroke="#000" stroke-width="1.0"/>
<rect x="567.00" y="621.82" width="4.90" height="59.18" fill="#7a7a7a"/>
<line x1="569.45" y1="618.14" x2="569.45" y2="625.51" stroke="#000" stroke-width="1.0"/>
<line x1="568.25" y1="618.14" x2="570.65" y2="618.14" stroke="#000" stroke-width="1.0"/>
<line x1="568.25" y1="625.51" x2="570.65" y2="625.51" stroke="#000" stroke-width="1.0"/>
<rect x="577.30" y="622.88" width="4.90" height="58.12" fill="#0c0c0c"/>
<line x1="579.75" y1="622.35" x2="579.75" y2="623.40" stroke="#000" stroke-width="1.0"/>
<line x1="578.55" y1="622.35" x2="580.95" y2="622.35" stroke="#000" stroke-width="1.0"/>
<line x1="578.55" y1="623.40" x2="580.95" y2="623.40" stroke="#000" stroke-width="1.0"/>
<rect x="583.90" y="630.71" width="4.90" height="50.29" fill="#a8a8a8"/>
<line x1="586.35" y1="629.14" x2="586.35" y2="632.29" stroke="#000" stroke-width="1.0"/>
<line x1="585.15" y1="629.14" x2="587.55" y2="629.14" stroke="#000" stroke-width="1.0"/>
<line x1="585.15" y1="632.29" x2="587.55" y2="632.29" stroke="#000" stroke-width="1.0"/>
<rect x="590.50" y="618.93" width="4.90" height="62.07" fill="#7a7a7a"/>
<line x1="592.95" y1="615.25" x2="592.95" y2="622.61" stroke="#000" stroke-width="1.0"/>
<line x1="591.75" y1="615.25" x2="594.15" y2="615.25" stroke="#000" stroke-width="1.0"/>
<line x1="591.75" y1="622.61" x2="594.15" y2="622.61" stroke="#000" stroke-width="1.0"/>
<line x1="433.00" y1="601.40" x2="433.00" y2="681.50" stroke="#333" stroke-width="1.3"/>
<line x1="430.50" y1="601.40" x2="433.00" y2="601.40" stroke="#333" stroke-width="1.3"/>
<text x="429.70" y="605.00" font-family="'Liberation Serif', serif" font-size="10.5" font-weight="bold" text-anchor="end" fill="#111" stroke="#111" stroke-width="0.22">150</text>
<line x1="430.50" y1="628.40" x2="433.00" y2="628.40" stroke="#333" stroke-width="1.3"/>
<text x="429.70" y="632.00" font-family="'Liberation Serif', serif" font-size="10.5" font-weight="bold" text-anchor="end" fill="#111" stroke="#111" stroke-width="0.22">100</text>
<line x1="430.50" y1="654.70" x2="433.00" y2="654.70" stroke="#333" stroke-width="1.3"/>
<text x="429.70" y="658.30" font-family="'Liberation Serif', serif" font-size="10.5" font-weight="bold" text-anchor="end" fill="#111" stroke="#111" stroke-width="0.22">50</text>
<line x1="430.50" y1="681.00" x2="433.00" y2="681.00" stroke="#333" stroke-width="1.3"/>
<text x="429.70" y="684.60" font-family="'Liberation Serif', serif" font-size="10.5" font-weight="bold" text-anchor="end" fill="#111" stroke="#111" stroke-width="0.22">0</text>
<line x1="432.50" y1="681.00" x2="598.70" y2="681.00" stroke="#333" stroke-width="1.3"/>
<line x1="445.35" y1="681.00" x2="445.35" y2="683.50" stroke="#333" stroke-width="1.3"/>
<line x1="468.85" y1="681.00" x2="468.85" y2="683.50" stroke="#333" stroke-width="1.3"/>
<line x1="492.35" y1="681.00" x2="492.35" y2="683.50" stroke="#333" stroke-width="1.3"/>
<line x1="515.85" y1="681.00" x2="515.85" y2="683.50" stroke="#333" stroke-width="1.3"/>
<line x1="539.35" y1="681.00" x2="539.35" y2="683.50" stroke="#333" stroke-width="1.3"/>
<line x1="562.85" y1="681.00" x2="562.85" y2="683.50" stroke="#333" stroke-width="1.3"/>
<line x1="586.35" y1="681.00" x2="586.35" y2="683.50" stroke="#333" stroke-width="1.3"/>
<polygon points="463.35,671.00 464.08,672.49 465.73,672.73 464.54,673.89 464.82,675.52 463.35,674.75 461.88,675.52 462.16,673.89 460.97,672.73 462.62,672.49" fill="#4a4a4a" stroke="#4a4a4a" stroke-width="0.5" stroke-linejoin="round"/>
<polygon points="469.75,671.00 470.48,672.49 472.13,672.73 470.94,673.89 471.22,675.52 469.75,674.75 468.28,675.52 468.56,673.89 467.37,672.73 469.02,672.49" fill="#4a4a4a" stroke="#4a4a4a" stroke-width="0.5" stroke-linejoin="round"/>
<polygon points="476.15,671.00 476.88,672.49 478.53,672.73 477.34,673.89 477.62,675.52 476.15,674.75 474.68,675.52 474.96,673.89 473.77,672.73 475.42,672.49" fill="#4a4a4a" stroke="#4a4a4a" stroke-width="0.5" stroke-linejoin="round"/>
<text x="448.85" y="693.20" font-family="'Liberation Serif', serif" font-size="11.2" font-weight="bold" text-anchor="end" fill="#111" transform="rotate(-45 448.85 693.20)" stroke="#111" stroke-width="0.22">Control</text>
<text x="472.35" y="693.20" font-family="'Liberation Serif', serif" font-size="11.2" font-weight="bold" text-anchor="end" fill="#111" transform="rotate(-45 472.35 693.20)" stroke="#111" stroke-width="0.22">Vancomycin</text>
<text x="495.85" y="693.20" font-family="'Liberation Serif', serif" font-size="11.2" font-weight="bold" text-anchor="end" fill="#111" transform="rotate(-45 495.85 693.20)" stroke="#111" stroke-width="0.22">5 <tspan font-weight="normal">&#956;</tspan>M</text>
<text x="519.35" y="693.20" font-family="'Liberation Serif', serif" font-size="11.2" font-weight="bold" text-anchor="end" fill="#111" transform="rotate(-45 519.35 693.20)" stroke="#111" stroke-width="0.22">25 <tspan font-weight="normal">&#956;</tspan>M</text>
<text x="542.85" y="693.20" font-family="'Liberation Serif', serif" font-size="11.2" font-weight="bold" text-anchor="end" fill="#111" transform="rotate(-45 542.85 693.20)" stroke="#111" stroke-width="0.22">50 <tspan font-weight="normal">&#956;</tspan>M</text>
<text x="566.35" y="693.20" font-family="'Liberation Serif', serif" font-size="11.2" font-weight="bold" text-anchor="end" fill="#111" transform="rotate(-45 566.35 693.20)" stroke="#111" stroke-width="0.22">100 <tspan font-weight="normal">&#956;</tspan>M</text>
<text x="589.85" y="693.20" font-family="'Liberation Serif', serif" font-size="11.2" font-weight="bold" text-anchor="end" fill="#111" transform="rotate(-45 589.85 693.20)" stroke="#111" stroke-width="0.22">200 <tspan font-weight="normal">&#956;</tspan>M</text>
<text x="395.10" y="638.50" font-family="'Liberation Serif', serif" font-size="11.2" font-weight="bold" text-anchor="middle" fill="#111" transform="rotate(-90 395.10 638.50)" stroke="#111" stroke-width="0.22">Adhesion (%)</text>
<text x="478.10" y="595.60" font-family="'Liberation Serif', serif" font-size="14.1" font-weight="bold" text-anchor="start" fill="#111" stroke="#111" stroke-width="0.22">ATCC 6538</text>
<rect x="603.90" y="604.20" width="9.80" height="9.40" fill="#0c0c0c"/>
<rect x="603.90" y="613.60" width="9.80" height="9.40" fill="#a8a8a8"/>
<rect x="603.90" y="623.00" width="9.80" height="9.40" fill="#7a7a7a"/>
<text x="618.30" y="613.00" font-family="'Liberation Serif', serif" font-size="11" font-weight="normal" text-anchor="start" fill="#111" stroke="#111" stroke-width="0.28">1.5 h</text>
<text x="618.30" y="622.40" font-family="'Liberation Serif', serif" font-size="11" font-weight="normal" text-anchor="start" fill="#111" stroke="#111" stroke-width="0.28">3 h</text>
<text x="618.30" y="631.80" font-family="'Liberation Serif', serif" font-size="11" font-weight="normal" text-anchor="start" fill="#111" stroke="#111" stroke-width="0.28">6 h</text>
<rect x="102.20" y="757.70" width="124.50" height="14.60" fill="#f5d6f5" rx="4"/>
<defs><radialGradient id="wg0"><stop offset="0.55" stop-color="#8c1cd0"/><stop offset="1" stop-color="#7016b0"/></radialGradient></defs>
<circle cx="109.60" cy="764.50" r="8.30" fill="#fbe2fb"/>
<circle cx="109.60" cy="764.50" r="7.00" fill="url(#wg0)"/>
<defs><radialGradient id="wg1"><stop offset="0.55" stop-color="#f8dcf8"/><stop offset="1" stop-color="#c6b0d2"/></radialGradient></defs>
<circle cx="128.90" cy="764.50" r="8.30" fill="#fbe2fb"/>
<circle cx="128.90" cy="764.50" r="7.00" fill="url(#wg1)"/>
<circle cx="147.20" cy="764.50" r="8.30" fill="#fbe2fb"/>
<circle cx="147.20" cy="764.50" r="7.00" fill="url(#wg0)"/>
<circle cx="165.40" cy="764.50" r="8.30" fill="#fbe2fb"/>
<circle cx="165.40" cy="764.50" r="7.00" fill="url(#wg0)"/>
<defs><radialGradient id="wg2"><stop offset="0.55" stop-color="#a224de"/><stop offset="1" stop-color="#811cbc"/></radialGradient></defs>
<circle cx="183.30" cy="764.50" r="8.30" fill="#fbe2fb"/>
<circle cx="183.30" cy="764.50" r="7.00" fill="url(#wg2)"/>
<defs><radialGradient id="wg3"><stop offset="0.55" stop-color="#cc62e6"/><stop offset="1" stop-color="#a34ec3"/></radialGradient></defs>
<circle cx="200.60" cy="764.50" r="8.30" fill="#fbe2fb"/>
<circle cx="200.60" cy="764.50" r="7.00" fill="url(#wg3)"/>
<defs><radialGradient id="wg4"><stop offset="0.55" stop-color="#f4c8f4"/><stop offset="1" stop-color="#c3a0cf"/></radialGradient></defs>
<circle cx="218.40" cy="764.50" r="8.30" fill="#fbe2fb"/>
<circle cx="218.40" cy="764.50" r="7.00" fill="url(#wg4)"/>
<rect x="102.70" y="788.70" width="12.40" height="54.30" fill="#4d4d4d" stroke="#000" stroke-width="1.1"/>
<line x1="108.90" y1="784.08" x2="108.90" y2="793.32" stroke="#000" stroke-width="1.2"/>
<line x1="106.30" y1="784.08" x2="111.50" y2="784.08" stroke="#000" stroke-width="1.2"/>
<line x1="106.30" y1="793.32" x2="111.50" y2="793.32" stroke="#000" stroke-width="1.2"/>
<rect x="120.70" y="830.24" width="12.40" height="12.76" fill="#4d4d4d" stroke="#000" stroke-width="1.1"/>
<line x1="126.90" y1="827.80" x2="126.90" y2="832.68" stroke="#000" stroke-width="1.2"/>
<line x1="124.30" y1="827.80" x2="129.50" y2="827.80" stroke="#000" stroke-width="1.2"/>
<line x1="124.30" y1="832.68" x2="129.50" y2="832.68" stroke="#000" stroke-width="1.2"/>
<rect x="138.70" y="806.18" width="12.40" height="36.82" fill="#4d4d4d" stroke="#000" stroke-width="1.1"/>
<line x1="144.90" y1="802.66" x2="144.90" y2="809.71" stroke="#000" stroke-width="1.2"/>
<line x1="142.30" y1="802.66" x2="147.50" y2="802.66" stroke="#000" stroke-width="1.2"/>
<line x1="142.30" y1="809.71" x2="147.50" y2="809.71" stroke="#000" stroke-width="1.2"/>
<rect x="156.70" y="807.71" width="12.40" height="35.29" fill="#4d4d4d" stroke="#000" stroke-width="1.1"/>
<line x1="162.90" y1="804.99" x2="162.90" y2="810.42" stroke="#000" stroke-width="1.2"/>
<line x1="160.30" y1="804.99" x2="165.50" y2="804.99" stroke="#000" stroke-width="1.2"/>
<line x1="160.30" y1="810.42" x2="165.50" y2="810.42" stroke="#000" stroke-width="1.2"/>
<rect x="174.70" y="822.58" width="12.40" height="20.42" fill="#4d4d4d" stroke="#000" stroke-width="1.1"/>
<line x1="180.90" y1="817.97" x2="180.90" y2="827.20" stroke="#000" stroke-width="1.2"/>
<line x1="178.30" y1="817.97" x2="183.50" y2="817.97" stroke="#000" stroke-width="1.2"/>
<line x1="178.30" y1="827.20" x2="183.50" y2="827.20" stroke="#000" stroke-width="1.2"/>
<rect x="192.70" y="828.88" width="12.40" height="14.12" fill="#4d4d4d" stroke="#000" stroke-width="1.1"/>
<line x1="198.90" y1="824.27" x2="198.90" y2="833.50" stroke="#000" stroke-width="1.2"/>
<line x1="196.30" y1="824.27" x2="201.50" y2="824.27" stroke="#000" stroke-width="1.2"/>
<line x1="196.30" y1="833.50" x2="201.50" y2="833.50" stroke="#000" stroke-width="1.2"/>
<rect x="210.70" y="829.70" width="12.40" height="13.30" fill="#4d4d4d" stroke="#000" stroke-width="1.1"/>
<line x1="216.90" y1="825.90" x2="216.90" y2="833.50" stroke="#000" stroke-width="1.2"/>
<line x1="214.30" y1="825.90" x2="219.50" y2="825.90" stroke="#000" stroke-width="1.2"/>
<line x1="214.30" y1="833.50" x2="219.50" y2="833.50" stroke="#000" stroke-width="1.2"/>
<line x1="99.60" y1="760.60" x2="99.60" y2="843.50" stroke="#333" stroke-width="1.3"/>
<line x1="97.10" y1="760.60" x2="99.60" y2="760.60" stroke="#333" stroke-width="1.3"/>
<text x="96.00" y="764.20" font-family="'Liberation Serif', serif" font-size="10.5" font-weight="bold" text-anchor="end" fill="#111" stroke="#111" stroke-width="0.22">150</text>
<line x1="97.10" y1="788.70" x2="99.60" y2="788.70" stroke="#333" stroke-width="1.3"/>
<text x="96.00" y="792.30" font-family="'Liberation Serif', serif" font-size="10.5" font-weight="bold" text-anchor="end" fill="#111" stroke="#111" stroke-width="0.22">100</text>
<line x1="97.10" y1="815.80" x2="99.60" y2="815.80" stroke="#333" stroke-width="1.3"/>
<text x="96.00" y="819.40" font-family="'Liberation Serif', serif" font-size="10.5" font-weight="bold" text-anchor="end" fill="#111" stroke="#111" stroke-width="0.22">50</text>
<line x1="97.10" y1="843.00" x2="99.60" y2="843.00" stroke="#333" stroke-width="1.3"/>
<text x="96.00" y="846.60" font-family="'Liberation Serif', serif" font-size="10.5" font-weight="bold" text-anchor="end" fill="#111" stroke="#111" stroke-width="0.22">0</text>
<line x1="99.10" y1="843.00" x2="225.70" y2="843.00" stroke="#333" stroke-width="1.3"/>
<line x1="108.90" y1="843.00" x2="108.90" y2="845.50" stroke="#333" stroke-width="1.3"/>
<line x1="126.90" y1="843.00" x2="126.90" y2="845.50" stroke="#333" stroke-width="1.3"/>
<line x1="144.90" y1="843.00" x2="144.90" y2="845.50" stroke="#333" stroke-width="1.3"/>
<line x1="162.90" y1="843.00" x2="162.90" y2="845.50" stroke="#333" stroke-width="1.3"/>
<line x1="180.90" y1="843.00" x2="180.90" y2="845.50" stroke="#333" stroke-width="1.3"/>
<line x1="198.90" y1="843.00" x2="198.90" y2="845.50" stroke="#333" stroke-width="1.3"/>
<line x1="216.90" y1="843.00" x2="216.90" y2="845.50" stroke="#333" stroke-width="1.3"/>
<polygon points="126.90,817.60 127.75,819.33 129.66,819.60 128.28,820.95 128.60,822.85 126.90,821.95 125.20,822.85 125.52,820.95 124.14,819.60 126.05,819.33" fill="#4a4a4a" stroke="#4a4a4a" stroke-width="0.5" stroke-linejoin="round"/>
<polygon points="144.90,789.80 145.75,791.53 147.66,791.80 146.28,793.15 146.60,795.05 144.90,794.15 143.20,795.05 143.52,793.15 142.14,791.80 144.05,791.53" fill="#4a4a4a" stroke="#4a4a4a" stroke-width="0.5" stroke-linejoin="round"/>
<polygon points="162.90,789.80 163.75,791.53 165.66,791.80 164.28,793.15 164.60,795.05 162.90,794.15 161.20,795.05 161.52,793.15 160.14,791.80 162.05,791.53" fill="#4a4a4a" stroke="#4a4a4a" stroke-width="0.5" stroke-linejoin="round"/>
<polygon points="180.90,806.40 181.75,808.13 183.66,808.40 182.28,809.75 182.60,811.65 180.90,810.75 179.20,811.65 179.52,809.75 178.14,808.40 180.05,808.13" fill="#4a4a4a" stroke="#4a4a4a" stroke-width="0.5" stroke-linejoin="round"/>
<polygon points="198.90,813.00 199.75,814.73 201.66,815.00 200.28,816.35 200.60,818.25 198.90,817.35 197.20,818.25 197.52,816.35 196.14,815.00 198.05,814.73" fill="#4a4a4a" stroke="#4a4a4a" stroke-width="0.5" stroke-linejoin="round"/>
<polygon points="216.90,813.00 217.75,814.73 219.66,815.00 218.28,816.35 218.60,818.25 216.90,817.35 215.20,818.25 215.52,816.35 214.14,815.00 216.05,814.73" fill="#4a4a4a" stroke="#4a4a4a" stroke-width="0.5" stroke-linejoin="round"/>
<text x="112.40" y="856.00" font-family="'Liberation Serif', serif" font-size="11.2" font-weight="bold" text-anchor="end" fill="#111" transform="rotate(-45 112.40 856.00)" stroke="#111" stroke-width="0.22">Control</text>
<text x="130.40" y="856.00" font-family="'Liberation Serif', serif" font-size="11.2" font-weight="bold" text-anchor="end" fill="#111" transform="rotate(-45 130.40 856.00)" stroke="#111" stroke-width="0.22">Vancomycin</text>
<text x="148.40" y="856.00" font-family="'Liberation Serif', serif" font-size="11.2" font-weight="bold" text-anchor="end" fill="#111" transform="rotate(-45 148.40 856.00)" stroke="#111" stroke-width="0.22">5 <tspan font-weight="normal">&#956;</tspan>M</text>
<text x="166.40" y="856.00" font-family="'Liberation Serif', serif" font-size="11.2" font-weight="bold" text-anchor="end" fill="#111" transform="rotate(-45 166.40 856.00)" stroke="#111" stroke-width="0.22">25 <tspan font-weight="normal">&#956;</tspan>M</text>
<text x="184.40" y="856.00" font-family="'Liberation Serif', serif" font-size="11.2" font-weight="bold" text-anchor="end" fill="#111" transform="rotate(-45 184.40 856.00)" stroke="#111" stroke-width="0.22">50 <tspan font-weight="normal">&#956;</tspan>M</text>
<text x="202.40" y="856.00" font-family="'Liberation Serif', serif" font-size="11.2" font-weight="bold" text-anchor="end" fill="#111" transform="rotate(-45 202.40 856.00)" stroke="#111" stroke-width="0.22">100 <tspan font-weight="normal">&#956;</tspan>M</text>
<text x="220.40" y="856.00" font-family="'Liberation Serif', serif" font-size="11.2" font-weight="bold" text-anchor="end" fill="#111" transform="rotate(-45 220.40 856.00)" stroke="#111" stroke-width="0.22">200 <tspan font-weight="normal">&#956;</tspan>M</text>
<text x="55.30" y="798.50" font-family="'Liberation Serif', serif" font-size="11.2" font-weight="bold" text-anchor="middle" fill="#111" transform="rotate(-90 55.30 798.50)" stroke="#111" stroke-width="0.22">Biofilm formation (%)</text>
<text x="139.30" y="747.50" font-family="'Liberation Serif', serif" font-size="13.8" font-weight="bold" text-anchor="start" fill="#111" stroke="#111" stroke-width="0.22">Newman</text>
<rect x="98.90" y="921.10" width="126.70" height="14.40" fill="#f5d6f5" rx="4"/>
<circle cx="106.70" cy="928.00" r="8.30" fill="#fbe2fb"/>
<circle cx="106.70" cy="928.00" r="7.00" fill="url(#wg0)"/>
<defs><radialGradient id="wg5"><stop offset="0.55" stop-color="#faeafa"/><stop offset="1" stop-color="#c8bbd4"/></radialGradient></defs>
<circle cx="124.40" cy="928.00" r="8.30" fill="#fbe2fb"/>
<circle cx="124.40" cy="928.00" r="7.00" fill="url(#wg5)"/>
<circle cx="144.40" cy="928.00" r="8.30" fill="#fbe2fb"/>
<circle cx="144.40" cy="928.00" r="7.00" fill="url(#wg0)"/>
<circle cx="162.90" cy="928.00" r="8.30" fill="#fbe2fb"/>
<circle cx="162.90" cy="928.00" r="7.00" fill="url(#wg0)"/>
<defs><radialGradient id="wg6"><stop offset="0.55" stop-color="#bf7ae4"/><stop offset="1" stop-color="#9861c1"/></radialGradient></defs>
<circle cx="180.70" cy="928.00" r="8.30" fill="#fbe2fb"/>
<circle cx="180.70" cy="928.00" r="7.00" fill="url(#wg6)"/>
<defs><radialGradient id="wg7"><stop offset="0.55" stop-color="#c382e6"/><stop offset="1" stop-color="#9c68c3"/></radialGradient></defs>
<circle cx="199.30" cy="928.00" r="8.30" fill="#fbe2fb"/>
<circle cx="199.30" cy="928.00" r="7.00" fill="url(#wg7)"/>
<defs><radialGradient id="wg8"><stop offset="0.55" stop-color="#d4a0ec"/><stop offset="1" stop-color="#a980c8"/></radialGradient></defs>
<circle cx="217.80" cy="928.00" r="8.30" fill="#fbe2fb"/>
<circle cx="217.80" cy="928.00" r="7.00" fill="url(#wg8)"/>
<rect x="98.90" y="951.90" width="12.60" height="55.40" fill="#4d4d4d" stroke="#000" stroke-width="1.1"/>
<line x1="105.20" y1="947.19" x2="105.20" y2="956.61" stroke="#000" stroke-width="1.2"/>
<line x1="102.60" y1="947.19" x2="107.80" y2="947.19" stroke="#000" stroke-width="1.2"/>
<line x1="102.60" y1="956.61" x2="107.80" y2="956.61" stroke="#000" stroke-width="1.2"/>
<rect x="117.53" y="1001.76" width="12.60" height="5.54" fill="#4d4d4d" stroke="#000" stroke-width="1.1"/>
<line x1="123.83" y1="1000.38" x2="123.83" y2="1003.14" stroke="#000" stroke-width="1.2"/>
<line x1="121.23" y1="1000.38" x2="126.43" y2="1000.38" stroke="#000" stroke-width="1.2"/>
<line x1="121.23" y1="1003.14" x2="126.43" y2="1003.14" stroke="#000" stroke-width="1.2"/>
<rect x="136.16" y="967.13" width="12.60" height="40.16" fill="#4d4d4d" stroke="#000" stroke-width="1.1"/>
<line x1="142.46" y1="960.49" x2="142.46" y2="973.78" stroke="#000" stroke-width="1.2"/>
<line x1="139.86" y1="960.49" x2="145.06" y2="960.49" stroke="#000" stroke-width="1.2"/>
<line x1="139.86" y1="973.78" x2="145.06" y2="973.78" stroke="#000" stroke-width="1.2"/>
<rect x="154.79" y="979.32" width="12.60" height="27.98" fill="#4d4d4d" stroke="#000" stroke-width="1.1"/>
<line x1="161.09" y1="973.78" x2="161.09" y2="984.86" stroke="#000" stroke-width="1.2"/>
<line x1="158.49" y1="973.78" x2="163.69" y2="973.78" stroke="#000" stroke-width="1.2"/>
<line x1="158.49" y1="984.86" x2="163.69" y2="984.86" stroke="#000" stroke-width="1.2"/>
<rect x="173.42" y="991.23" width="12.60" height="16.07" fill="#4d4d4d" stroke="#000" stroke-width="1.1"/>
<line x1="179.72" y1="989.29" x2="179.72" y2="993.17" stroke="#000" stroke-width="1.2"/>
<line x1="177.12" y1="989.29" x2="182.32" y2="989.29" stroke="#000" stroke-width="1.2"/>
<line x1="177.12" y1="993.17" x2="182.32" y2="993.17" stroke="#000" stroke-width="1.2"/>
<rect x="192.05" y="995.11" width="12.60" height="12.19" fill="#4d4d4d" stroke="#000" stroke-width="1.1"/>
<line x1="198.35" y1="992.34" x2="198.35" y2="997.88" stroke="#000" stroke-width="1.2"/>
<line x1="195.75" y1="992.34" x2="200.95" y2="992.34" stroke="#000" stroke-width="1.2"/>
<line x1="195.75" y1="997.88" x2="200.95" y2="997.88" stroke="#000" stroke-width="1.2"/>
<rect x="210.68" y="995.11" width="12.60" height="12.19" fill="#4d4d4d" stroke="#000" stroke-width="1.1"/>
<line x1="216.98" y1="991.51" x2="216.98" y2="998.71" stroke="#000" stroke-width="1.2"/>
<line x1="214.38" y1="991.51" x2="219.58" y2="991.51" stroke="#000" stroke-width="1.2"/>
<line x1="214.38" y1="998.71" x2="219.58" y2="998.71" stroke="#000" stroke-width="1.2"/>
<line x1="95.00" y1="923.20" x2="95.00" y2="1007.80" stroke="#333" stroke-width="1.3"/>
<line x1="92.50" y1="923.20" x2="95.00" y2="923.20" stroke="#333" stroke-width="1.3"/>
<text x="93.20" y="927.21" font-family="'Liberation Serif', serif" font-size="11.4" font-weight="bold" text-anchor="end" fill="#111" stroke="#111" stroke-width="0.22">150</text>
<line x1="92.50" y1="951.90" x2="95.00" y2="951.90" stroke="#333" stroke-width="1.3"/>
<text x="93.20" y="955.90" font-family="'Liberation Serif', serif" font-size="11.4" font-weight="bold" text-anchor="end" fill="#111" stroke="#111" stroke-width="0.22">100</text>
<line x1="92.50" y1="979.90" x2="95.00" y2="979.90" stroke="#333" stroke-width="1.3"/>
<text x="93.20" y="983.90" font-family="'Liberation Serif', serif" font-size="11.4" font-weight="bold" text-anchor="end" fill="#111" stroke="#111" stroke-width="0.22">50</text>
<line x1="92.50" y1="1007.30" x2="95.00" y2="1007.30" stroke="#333" stroke-width="1.3"/>
<text x="93.20" y="1011.30" font-family="'Liberation Serif', serif" font-size="11.4" font-weight="bold" text-anchor="end" fill="#111" stroke="#111" stroke-width="0.22">0</text>
<line x1="94.50" y1="1007.30" x2="226.00" y2="1007.30" stroke="#333" stroke-width="1.3"/>
<line x1="105.20" y1="1007.30" x2="105.20" y2="1009.80" stroke="#333" stroke-width="1.3"/>
<line x1="123.83" y1="1007.30" x2="123.83" y2="1009.80" stroke="#333" stroke-width="1.3"/>
<line x1="142.46" y1="1007.30" x2="142.46" y2="1009.80" stroke="#333" stroke-width="1.3"/>
<line x1="161.09" y1="1007.30" x2="161.09" y2="1009.80" stroke="#333" stroke-width="1.3"/>
<line x1="179.72" y1="1007.30" x2="179.72" y2="1009.80" stroke="#333" stroke-width="1.3"/>
<line x1="198.35" y1="1007.30" x2="198.35" y2="1009.80" stroke="#333" stroke-width="1.3"/>
<line x1="216.98" y1="1007.30" x2="216.98" y2="1009.80" stroke="#333" stroke-width="1.3"/>
<polygon points="123.83,989.10 124.68,990.83 126.59,991.10 125.21,992.45 125.53,994.35 123.83,993.45 122.13,994.35 122.45,992.45 121.07,991.10 122.98,990.83" fill="#4a4a4a" stroke="#4a4a4a" stroke-width="0.5" stroke-linejoin="round"/>
<polygon points="142.46,951.30 143.31,953.03 145.22,953.30 143.84,954.65 144.16,956.55 142.46,955.65 140.76,956.55 141.08,954.65 139.70,953.30 141.61,953.03" fill="#4a4a4a" stroke="#4a4a4a" stroke-width="0.5" stroke-linejoin="round"/>
<polygon points="161.09,962.40 161.94,964.13 163.85,964.40 162.47,965.75 162.79,967.65 161.09,966.75 159.39,967.65 159.71,965.75 158.33,964.40 160.24,964.13" fill="#4a4a4a" stroke="#4a4a4a" stroke-width="0.5" stroke-linejoin="round"/>
<polygon points="179.72,978.00 180.57,979.73 182.48,980.00 181.10,981.35 181.42,983.25 179.72,982.35 178.02,983.25 178.34,981.35 176.96,980.00 178.87,979.73" fill="#4a4a4a" stroke="#4a4a4a" stroke-width="0.5" stroke-linejoin="round"/>
<polygon points="198.35,984.20 199.20,985.93 201.11,986.20 199.73,987.55 200.05,989.45 198.35,988.55 196.65,989.45 196.97,987.55 195.59,986.20 197.50,985.93" fill="#4a4a4a" stroke="#4a4a4a" stroke-width="0.5" stroke-linejoin="round"/>
<polygon points="216.98,982.80 217.83,984.53 219.74,984.80 218.36,986.15 218.68,988.05 216.98,987.15 215.28,988.05 215.60,986.15 214.22,984.80 216.13,984.53" fill="#4a4a4a" stroke="#4a4a4a" stroke-width="0.5" stroke-linejoin="round"/>
<text x="108.70" y="1021.10" font-family="'Liberation Serif', serif" font-size="11.6" font-weight="bold" text-anchor="end" fill="#111" transform="rotate(-45 108.70 1021.10)" stroke="#111" stroke-width="0.22">Control</text>
<text x="127.33" y="1021.10" font-family="'Liberation Serif', serif" font-size="11.6" font-weight="bold" text-anchor="end" fill="#111" transform="rotate(-45 127.33 1021.10)" stroke="#111" stroke-width="0.22">Vancomycin</text>
<text x="145.96" y="1021.10" font-family="'Liberation Serif', serif" font-size="11.6" font-weight="bold" text-anchor="end" fill="#111" transform="rotate(-45 145.96 1021.10)" stroke="#111" stroke-width="0.22">5 <tspan font-weight="normal">&#956;</tspan>M</text>
<text x="164.59" y="1021.10" font-family="'Liberation Serif', serif" font-size="11.6" font-weight="bold" text-anchor="end" fill="#111" transform="rotate(-45 164.59 1021.10)" stroke="#111" stroke-width="0.22">25 <tspan font-weight="normal">&#956;</tspan>M</text>
<text x="183.22" y="1021.10" font-family="'Liberation Serif', serif" font-size="11.6" font-weight="bold" text-anchor="end" fill="#111" transform="rotate(-45 183.22 1021.10)" stroke="#111" stroke-width="0.22">50 <tspan font-weight="normal">&#956;</tspan>M</text>
<text x="201.85" y="1021.10" font-family="'Liberation Serif', serif" font-size="11.6" font-weight="bold" text-anchor="end" fill="#111" transform="rotate(-45 201.85 1021.10)" stroke="#111" stroke-width="0.22">100 <tspan font-weight="normal">&#956;</tspan>M</text>
<text x="220.48" y="1021.10" font-family="'Liberation Serif', serif" font-size="11.6" font-weight="bold" text-anchor="end" fill="#111" transform="rotate(-45 220.48 1021.10)" stroke="#111" stroke-width="0.22">200 <tspan font-weight="normal">&#956;</tspan>M</text>
<text x="55.20" y="961.80" font-family="'Liberation Serif', serif" font-size="10.4" font-weight="bold" text-anchor="middle" fill="#111" transform="rotate(-90 55.20 961.80)" stroke="#111" stroke-width="0.22">Biofilm formation (%)</text>
<text x="135.00" y="914.10" font-family="'Liberation Serif', serif" font-size="14.1" font-weight="bold" text-anchor="start" fill="#111" stroke="#111" stroke-width="0.22">ATCC 6538</text>
<rect x="461.00" y="756.10" width="120.00" height="14.40" fill="#e6aaf0" rx="4"/>
<circle cx="467.80" cy="763.00" r="8.30" fill="#fbe2fb"/>
<circle cx="467.80" cy="763.00" r="7.00" fill="url(#wg0)"/>
<circle cx="485.60" cy="763.00" r="8.30" fill="#fbe2fb"/>
<circle cx="485.60" cy="763.00" r="7.00" fill="url(#wg1)"/>
<circle cx="504.00" cy="763.00" r="8.30" fill="#fbe2fb"/>
<circle cx="504.00" cy="763.00" r="7.00" fill="url(#wg0)"/>
<circle cx="521.60" cy="763.00" r="8.30" fill="#fbe2fb"/>
<circle cx="521.60" cy="763.00" r="7.00" fill="url(#wg0)"/>
<circle cx="539.30" cy="763.00" r="8.30" fill="#fbe2fb"/>
<circle cx="539.30" cy="763.00" r="7.00" fill="url(#wg0)"/>
<circle cx="556.70" cy="763.00" r="8.30" fill="#fbe2fb"/>
<circle cx="556.70" cy="763.00" r="7.00" fill="url(#wg0)"/>
<circle cx="573.30" cy="763.00" r="8.30" fill="#fbe2fb"/>
<circle cx="573.30" cy="763.00" r="7.00" fill="url(#wg0)"/>
<rect x="459.20" y="788.60" width="12.40" height="54.20" fill="#4d4d4d" stroke="#000" stroke-width="1.1"/>
<line x1="465.40" y1="788.06" x2="465.40" y2="789.14" stroke="#000" stroke-width="1.2"/>
<line x1="462.80" y1="788.06" x2="468.00" y2="788.06" stroke="#000" stroke-width="1.2"/>
<line x1="462.80" y1="789.14" x2="468.00" y2="789.14" stroke="#000" stroke-width="1.2"/>
<rect x="477.22" y="830.55" width="12.40" height="12.25" fill="#4d4d4d" stroke="#000" stroke-width="1.1"/>
<line x1="483.42" y1="828.11" x2="483.42" y2="832.99" stroke="#000" stroke-width="1.2"/>
<line x1="480.82" y1="828.11" x2="486.02" y2="828.11" stroke="#000" stroke-width="1.2"/>
<line x1="480.82" y1="832.99" x2="486.02" y2="832.99" stroke="#000" stroke-width="1.2"/>
<rect x="495.24" y="786.70" width="12.40" height="56.10" fill="#4d4d4d" stroke="#000" stroke-width="1.1"/>
<line x1="501.44" y1="780.74" x2="501.44" y2="792.66" stroke="#000" stroke-width="1.2"/>
<line x1="498.84" y1="780.74" x2="504.04" y2="780.74" stroke="#000" stroke-width="1.2"/>
<line x1="498.84" y1="792.66" x2="504.04" y2="792.66" stroke="#000" stroke-width="1.2"/>
<rect x="513.26" y="787.79" width="12.40" height="55.01" fill="#4d4d4d" stroke="#000" stroke-width="1.1"/>
<line x1="519.46" y1="781.83" x2="519.46" y2="793.75" stroke="#000" stroke-width="1.2"/>
<line x1="516.86" y1="781.83" x2="522.06" y2="781.83" stroke="#000" stroke-width="1.2"/>
<line x1="516.86" y1="793.75" x2="522.06" y2="793.75" stroke="#000" stroke-width="1.2"/>
<rect x="531.28" y="792.77" width="12.40" height="50.03" fill="#4d4d4d" stroke="#000" stroke-width="1.1"/>
<line x1="537.48" y1="786.27" x2="537.48" y2="799.28" stroke="#000" stroke-width="1.2"/>
<line x1="534.88" y1="786.27" x2="540.08" y2="786.27" stroke="#000" stroke-width="1.2"/>
<line x1="534.88" y1="799.28" x2="540.08" y2="799.28" stroke="#000" stroke-width="1.2"/>
<rect x="549.30" y="798.36" width="12.40" height="44.44" fill="#4d4d4d" stroke="#000" stroke-width="1.1"/>
<line x1="555.50" y1="795.65" x2="555.50" y2="801.07" stroke="#000" stroke-width="1.2"/>
<line x1="552.90" y1="795.65" x2="558.10" y2="795.65" stroke="#000" stroke-width="1.2"/>
<line x1="552.90" y1="801.07" x2="558.10" y2="801.07" stroke="#000" stroke-width="1.2"/>
<rect x="567.32" y="805.67" width="12.40" height="37.13" fill="#4d4d4d" stroke="#000" stroke-width="1.1"/>
<line x1="573.52" y1="799.44" x2="573.52" y2="811.91" stroke="#000" stroke-width="1.2"/>
<line x1="570.92" y1="799.44" x2="576.12" y2="799.44" stroke="#000" stroke-width="1.2"/>
<line x1="570.92" y1="811.91" x2="576.12" y2="811.91" stroke="#000" stroke-width="1.2"/>
<line x1="455.60" y1="761.20" x2="455.60" y2="843.30" stroke="#333" stroke-width="1.3"/>
<line x1="453.10" y1="761.20" x2="455.60" y2="761.20" stroke="#333" stroke-width="1.3"/>
<text x="453.40" y="765.16" font-family="'Liberation Serif', serif" font-size="11.3" font-weight="bold" text-anchor="end" fill="#111" stroke="#111" stroke-width="0.22">150</text>
<line x1="453.10" y1="788.60" x2="455.60" y2="788.60" stroke="#333" stroke-width="1.3"/>
<text x="453.40" y="792.56" font-family="'Liberation Serif', serif" font-size="11.3" font-weight="bold" text-anchor="end" fill="#111" stroke="#111" stroke-width="0.22">100</text>
<line x1="453.10" y1="815.50" x2="455.60" y2="815.50" stroke="#333" stroke-width="1.3"/>
<text x="453.40" y="819.46" font-family="'Liberation Serif', serif" font-size="11.3" font-weight="bold" text-anchor="end" fill="#111" stroke="#111" stroke-width="0.22">50</text>
<line x1="453.10" y1="842.80" x2="455.60" y2="842.80" stroke="#333" stroke-width="1.3"/>
<text x="453.40" y="846.76" font-family="'Liberation Serif', serif" font-size="11.3" font-weight="bold" text-anchor="end" fill="#111" stroke="#111" stroke-width="0.22">0</text>
<line x1="455.10" y1="842.80" x2="582.90" y2="842.80" stroke="#333" stroke-width="1.3"/>
<line x1="465.40" y1="842.80" x2="465.40" y2="845.30" stroke="#333" stroke-width="1.3"/>
<line x1="483.42" y1="842.80" x2="483.42" y2="845.30" stroke="#333" stroke-width="1.3"/>
<line x1="501.44" y1="842.80" x2="501.44" y2="845.30" stroke="#333" stroke-width="1.3"/>
<line x1="519.46" y1="842.80" x2="519.46" y2="845.30" stroke="#333" stroke-width="1.3"/>
<line x1="537.48" y1="842.80" x2="537.48" y2="845.30" stroke="#333" stroke-width="1.3"/>
<line x1="555.50" y1="842.80" x2="555.50" y2="845.30" stroke="#333" stroke-width="1.3"/>
<line x1="573.52" y1="842.80" x2="573.52" y2="845.30" stroke="#333" stroke-width="1.3"/>
<polygon points="483.42,818.70 484.27,820.43 486.18,820.70 484.80,822.05 485.12,823.95 483.42,823.05 481.72,823.95 482.04,822.05 480.66,820.70 482.57,820.43" fill="#4a4a4a" stroke="#4a4a4a" stroke-width="0.5" stroke-linejoin="round"/>
<polygon points="555.50,786.30 556.35,788.03 558.26,788.30 556.88,789.65 557.20,791.55 555.50,790.65 553.80,791.55 554.12,789.65 552.74,788.30 554.65,788.03" fill="#4a4a4a" stroke="#4a4a4a" stroke-width="0.5" stroke-linejoin="round"/>
<polygon points="573.52,789.60 574.37,791.33 576.28,791.60 574.90,792.95 575.22,794.85 573.52,793.95 571.82,794.85 572.14,792.95 570.76,791.60 572.67,791.33" fill="#4a4a4a" stroke="#4a4a4a" stroke-width="0.5" stroke-linejoin="round"/>
<text x="468.90" y="855.80" font-family="'Liberation Serif', serif" font-size="11.2" font-weight="bold" text-anchor="end" fill="#111" transform="rotate(-45 468.90 855.80)" stroke="#111" stroke-width="0.22">Control</text>
<text x="486.92" y="855.80" font-family="'Liberation Serif', serif" font-size="11.2" font-weight="bold" text-anchor="end" fill="#111" transform="rotate(-45 486.92 855.80)" stroke="#111" stroke-width="0.22">Vancomycin</text>
<text x="504.94" y="855.80" font-family="'Liberation Serif', serif" font-size="11.2" font-weight="bold" text-anchor="end" fill="#111" transform="rotate(-45 504.94 855.80)" stroke="#111" stroke-width="0.22">5 <tspan font-weight="normal">&#956;</tspan>M</text>
<text x="522.96" y="855.80" font-family="'Liberation Serif', serif" font-size="11.2" font-weight="bold" text-anchor="end" fill="#111" transform="rotate(-45 522.96 855.80)" stroke="#111" stroke-width="0.22">25 <tspan font-weight="normal">&#956;</tspan>M</text>
<text x="540.98" y="855.80" font-family="'Liberation Serif', serif" font-size="11.2" font-weight="bold" text-anchor="end" fill="#111" transform="rotate(-45 540.98 855.80)" stroke="#111" stroke-width="0.22">50 <tspan font-weight="normal">&#956;</tspan>M</text>
<text x="559.00" y="855.80" font-family="'Liberation Serif', serif" font-size="11.2" font-weight="bold" text-anchor="end" fill="#111" transform="rotate(-45 559.00 855.80)" stroke="#111" stroke-width="0.22">100 <tspan font-weight="normal">&#956;</tspan>M</text>
<text x="577.02" y="855.80" font-family="'Liberation Serif', serif" font-size="11.2" font-weight="bold" text-anchor="end" fill="#111" transform="rotate(-45 577.02 855.80)" stroke="#111" stroke-width="0.22">200 <tspan font-weight="normal">&#956;</tspan>M</text>
<text x="412.60" y="798.50" font-family="'Liberation Serif', serif" font-size="11.2" font-weight="bold" text-anchor="middle" fill="#111" transform="rotate(-90 412.60 798.50)" stroke="#111" stroke-width="0.22">Biofilm formation (%)</text>
<text x="494.40" y="746.70" font-family="'Liberation Serif', serif" font-size="13.8" font-weight="bold" text-anchor="start" fill="#111" stroke="#111" stroke-width="0.22">Newman</text>
<rect x="461.00" y="921.50" width="119.00" height="13.60" fill="#e6aaf0" rx="4"/>
<circle cx="467.80" cy="928.20" r="8.30" fill="#fbe2fb"/>
<circle cx="467.80" cy="928.20" r="7.00" fill="url(#wg0)"/>
<circle cx="485.60" cy="928.20" r="8.30" fill="#fbe2fb"/>
<circle cx="485.60" cy="928.20" r="7.00" fill="url(#wg1)"/>
<circle cx="503.80" cy="928.20" r="8.30" fill="#fbe2fb"/>
<circle cx="503.80" cy="928.20" r="7.00" fill="url(#wg0)"/>
<circle cx="521.60" cy="928.20" r="8.30" fill="#fbe2fb"/>
<circle cx="521.60" cy="928.20" r="7.00" fill="url(#wg0)"/>
<circle cx="538.90" cy="928.20" r="8.30" fill="#fbe2fb"/>
<circle cx="538.90" cy="928.20" r="7.00" fill="url(#wg0)"/>
<circle cx="556.20" cy="928.20" r="8.30" fill="#fbe2fb"/>
<circle cx="556.20" cy="928.20" r="7.00" fill="url(#wg0)"/>
<circle cx="573.30" cy="928.20" r="8.30" fill="#fbe2fb"/>
<circle cx="573.30" cy="928.20" r="7.00" fill="url(#wg0)"/>
<rect x="459.20" y="953.50" width="12.40" height="54.60" fill="#4d4d4d" stroke="#000" stroke-width="1.1"/>
<line x1="465.40" y1="951.86" x2="465.40" y2="955.14" stroke="#000" stroke-width="1.2"/>
<line x1="462.80" y1="951.86" x2="468.00" y2="951.86" stroke="#000" stroke-width="1.2"/>
<line x1="462.80" y1="955.14" x2="468.00" y2="955.14" stroke="#000" stroke-width="1.2"/>
<rect x="477.20" y="1001.55" width="12.40" height="6.55" fill="#4d4d4d" stroke="#000" stroke-width="1.1"/>
<line x1="483.40" y1="995.82" x2="483.40" y2="1007.28" stroke="#000" stroke-width="1.2"/>
<line x1="480.80" y1="995.82" x2="486.00" y2="995.82" stroke="#000" stroke-width="1.2"/>
<line x1="480.80" y1="1007.28" x2="486.00" y2="1007.28" stroke="#000" stroke-width="1.2"/>
<rect x="495.20" y="944.76" width="12.40" height="63.34" fill="#4d4d4d" stroke="#000" stroke-width="1.1"/>
<line x1="501.40" y1="943.67" x2="501.40" y2="945.86" stroke="#000" stroke-width="1.2"/>
<line x1="498.80" y1="943.67" x2="504.00" y2="943.67" stroke="#000" stroke-width="1.2"/>
<line x1="498.80" y1="945.86" x2="504.00" y2="945.86" stroke="#000" stroke-width="1.2"/>
<rect x="513.20" y="952.41" width="12.40" height="55.69" fill="#4d4d4d" stroke="#000" stroke-width="1.1"/>
<line x1="519.40" y1="951.59" x2="519.40" y2="953.23" stroke="#000" stroke-width="1.2"/>
<line x1="516.80" y1="951.59" x2="522.00" y2="951.59" stroke="#000" stroke-width="1.2"/>
<line x1="516.80" y1="953.23" x2="522.00" y2="953.23" stroke="#000" stroke-width="1.2"/>
<rect x="531.20" y="952.95" width="12.40" height="55.15" fill="#4d4d4d" stroke="#000" stroke-width="1.1"/>
<line x1="537.40" y1="948.04" x2="537.40" y2="957.87" stroke="#000" stroke-width="1.2"/>
<line x1="534.80" y1="948.04" x2="540.00" y2="948.04" stroke="#000" stroke-width="1.2"/>
<line x1="534.80" y1="957.87" x2="540.00" y2="957.87" stroke="#000" stroke-width="1.2"/>
<rect x="549.20" y="957.87" width="12.40" height="50.23" fill="#4d4d4d" stroke="#000" stroke-width="1.1"/>
<line x1="555.40" y1="953.50" x2="555.40" y2="962.24" stroke="#000" stroke-width="1.2"/>
<line x1="552.80" y1="953.50" x2="558.00" y2="953.50" stroke="#000" stroke-width="1.2"/>
<line x1="552.80" y1="962.24" x2="558.00" y2="962.24" stroke="#000" stroke-width="1.2"/>
<rect x="567.20" y="962.78" width="12.40" height="45.32" fill="#4d4d4d" stroke="#000" stroke-width="1.1"/>
<line x1="573.40" y1="955.96" x2="573.40" y2="969.61" stroke="#000" stroke-width="1.2"/>
<line x1="570.80" y1="955.96" x2="576.00" y2="955.96" stroke="#000" stroke-width="1.2"/>
<line x1="570.80" y1="969.61" x2="576.00" y2="969.61" stroke="#000" stroke-width="1.2"/>
<line x1="455.60" y1="926.60" x2="455.60" y2="1008.60" stroke="#333" stroke-width="1.3"/>
<line x1="453.10" y1="926.60" x2="455.60" y2="926.60" stroke="#333" stroke-width="1.3"/>
<text x="453.40" y="930.56" font-family="'Liberation Serif', serif" font-size="11.3" font-weight="bold" text-anchor="end" fill="#111" stroke="#111" stroke-width="0.22">150</text>
<line x1="453.10" y1="953.50" x2="455.60" y2="953.50" stroke="#333" stroke-width="1.3"/>
<text x="453.40" y="957.46" font-family="'Liberation Serif', serif" font-size="11.3" font-weight="bold" text-anchor="end" fill="#111" stroke="#111" stroke-width="0.22">100</text>
<line x1="453.10" y1="980.90" x2="455.60" y2="980.90" stroke="#333" stroke-width="1.3"/>
<text x="453.40" y="984.86" font-family="'Liberation Serif', serif" font-size="11.3" font-weight="bold" text-anchor="end" fill="#111" stroke="#111" stroke-width="0.22">50</text>
<line x1="453.10" y1="1008.10" x2="455.60" y2="1008.10" stroke="#333" stroke-width="1.3"/>
<text x="453.40" y="1012.06" font-family="'Liberation Serif', serif" font-size="11.3" font-weight="bold" text-anchor="end" fill="#111" stroke="#111" stroke-width="0.22">0</text>
<line x1="455.10" y1="1008.10" x2="582.90" y2="1008.10" stroke="#333" stroke-width="1.3"/>
<line x1="465.40" y1="1008.10" x2="465.40" y2="1010.60" stroke="#333" stroke-width="1.3"/>
<line x1="483.40" y1="1008.10" x2="483.40" y2="1010.60" stroke="#333" stroke-width="1.3"/>
<line x1="501.40" y1="1008.10" x2="501.40" y2="1010.60" stroke="#333" stroke-width="1.3"/>
<line x1="519.40" y1="1008.10" x2="519.40" y2="1010.60" stroke="#333" stroke-width="1.3"/>
<line x1="537.40" y1="1008.10" x2="537.40" y2="1010.60" stroke="#333" stroke-width="1.3"/>
<line x1="555.40" y1="1008.10" x2="555.40" y2="1010.60" stroke="#333" stroke-width="1.3"/>
<line x1="573.40" y1="1008.10" x2="573.40" y2="1010.60" stroke="#333" stroke-width="1.3"/>
<polygon points="483.40,983.00 484.25,984.73 486.16,985.00 484.78,986.35 485.10,988.25 483.40,987.35 481.70,988.25 482.02,986.35 480.64,985.00 482.55,984.73" fill="#4a4a4a" stroke="#4a4a4a" stroke-width="0.5" stroke-linejoin="round"/>
<polygon points="555.40,945.20 556.25,946.93 558.16,947.20 556.78,948.55 557.10,950.45 555.40,949.55 553.70,950.45 554.02,948.55 552.64,947.20 554.55,946.93" fill="#4a4a4a" stroke="#4a4a4a" stroke-width="0.5" stroke-linejoin="round"/>
<polygon points="573.40,949.00 574.25,950.73 576.16,951.00 574.78,952.35 575.10,954.25 573.40,953.35 571.70,954.25 572.02,952.35 570.64,951.00 572.55,950.73" fill="#4a4a4a" stroke="#4a4a4a" stroke-width="0.5" stroke-linejoin="round"/>
<text x="468.90" y="1021.10" font-family="'Liberation Serif', serif" font-size="11.2" font-weight="bold" text-anchor="end" fill="#111" transform="rotate(-45 468.90 1021.10)" stroke="#111" stroke-width="0.22">Control</text>
<text x="486.90" y="1021.10" font-family="'Liberation Serif', serif" font-size="11.2" font-weight="bold" text-anchor="end" fill="#111" transform="rotate(-45 486.90 1021.10)" stroke="#111" stroke-width="0.22">Vancomycin</text>
<text x="504.90" y="1021.10" font-family="'Liberation Serif', serif" font-size="11.2" font-weight="bold" text-anchor="end" fill="#111" transform="rotate(-45 504.90 1021.10)" stroke="#111" stroke-width="0.22">5 <tspan font-weight="normal">&#956;</tspan>M</text>
<text x="522.90" y="1021.10" font-family="'Liberation Serif', serif" font-size="11.2" font-weight="bold" text-anchor="end" fill="#111" transform="rotate(-45 522.90 1021.10)" stroke="#111" stroke-width="0.22">25 <tspan font-weight="normal">&#956;</tspan>M</text>
<text x="540.90" y="1021.10" font-family="'Liberation Serif', serif" font-size="11.2" font-weight="bold" text-anchor="end" fill="#111" transform="rotate(-45 540.90 1021.10)" stroke="#111" stroke-width="0.22">50 <tspan font-weight="normal">&#956;</tspan>M</text>
<text x="558.90" y="1021.10" font-family="'Liberation Serif', serif" font-size="11.2" font-weight="bold" text-anchor="end" fill="#111" transform="rotate(-45 558.90 1021.10)" stroke="#111" stroke-width="0.22">100 <tspan font-weight="normal">&#956;</tspan>M</text>
<text x="576.90" y="1021.10" font-family="'Liberation Serif', serif" font-size="11.2" font-weight="bold" text-anchor="end" fill="#111" transform="rotate(-45 576.90 1021.10)" stroke="#111" stroke-width="0.22">200 <tspan font-weight="normal">&#956;</tspan>M</text>
<text x="412.60" y="963.40" font-family="'Liberation Serif', serif" font-size="11.2" font-weight="bold" text-anchor="middle" fill="#111" transform="rotate(-90 412.60 963.40)" stroke="#111" stroke-width="0.22">Biofilm formation (%)</text>
<text x="484.40" y="911.60" font-family="'Liberation Serif', serif" font-size="14.1" font-weight="bold" text-anchor="start" fill="#111" stroke="#111" stroke-width="0.22">ATCC 6538</text>
<line x1="110.60" y1="50.75" x2="126.62" y2="60.00" stroke="#3a3a3a" stroke-width="1.2" stroke-linecap="round"/>
<line x1="126.62" y1="60.00" x2="126.62" y2="78.50" stroke="#3a3a3a" stroke-width="1.2" stroke-linecap="round"/>
<line x1="126.62" y1="78.50" x2="110.60" y2="87.75" stroke="#3a3a3a" stroke-width="1.2" stroke-linecap="round"/>
<line x1="110.60" y1="87.75" x2="94.58" y2="78.50" stroke="#3a3a3a" stroke-width="1.2" stroke-linecap="round"/>
<line x1="94.58" y1="78.50" x2="94.58" y2="60.00" stroke="#3a3a3a" stroke-width="1.2" stroke-linecap="round"/>
<line x1="94.58" y1="60.00" x2="110.60" y2="50.75" stroke="#3a3a3a" stroke-width="1.2" stroke-linecap="round"/>
<line x1="97.58" y1="75.54" x2="97.58" y2="62.96" stroke="#3a3a3a" stroke-width="1.2" stroke-linecap="round"/>
<line x1="111.66" y1="54.83" x2="122.56" y2="61.12" stroke="#3a3a3a" stroke-width="1.2" stroke-linecap="round"/>
<line x1="122.56" y1="77.38" x2="111.66" y2="83.67" stroke="#3a3a3a" stroke-width="1.2" stroke-linecap="round"/>
<line x1="139.01" y1="52.85" x2="126.62" y2="60.00" stroke="#3a3a3a" stroke-width="1.2" stroke-linecap="round"/>
<line x1="146.28" y1="52.85" x2="158.66" y2="60.00" stroke="#3a3a3a" stroke-width="1.2" stroke-linecap="round"/>
<line x1="158.66" y1="60.00" x2="158.66" y2="78.50" stroke="#3a3a3a" stroke-width="1.2" stroke-linecap="round"/>
<line x1="158.66" y1="78.50" x2="142.64" y2="87.75" stroke="#3a3a3a" stroke-width="1.2" stroke-linecap="round"/>
<line x1="142.64" y1="87.75" x2="126.62" y2="78.50" stroke="#3a3a3a" stroke-width="1.2" stroke-linecap="round"/>
<line x1="155.66" y1="62.96" x2="155.66" y2="75.54" stroke="#3a3a3a" stroke-width="1.2" stroke-linecap="round"/>
<g transform="translate(142.64,54.45) scale(0.97,1.08)">
<text x="0.00" y="0.00" font-family="'Liberation Sans', sans-serif" font-size="9.8" font-weight="normal" text-anchor="middle" fill="#2c2c2c">O</text>
</g>
<line x1="141.04" y1="88.35" x2="141.04" y2="99.55" stroke="#3a3a3a" stroke-width="1.2"/>
<line x1="144.24" y1="88.35" x2="144.24" y2="99.55" stroke="#3a3a3a" stroke-width="1.2"/>
<g transform="translate(142.64,108.80) scale(0.97,1.08)">
<text x="0.00" y="0.00" font-family="'Liberation Sans', sans-serif" font-size="9.8" font-weight="normal" text-anchor="middle" fill="#2c2c2c">O</text>
</g>
<line x1="94.58" y1="60.00" x2="83.70" y2="53.60" stroke="#3a3a3a" stroke-width="1.2" stroke-linecap="round"/>
<g transform="translate(83.00,54.40) scale(0.97,1.08)">
<text x="0.00" y="0.00" font-family="'Liberation Sans', sans-serif" font-size="9.8" font-weight="normal" text-anchor="end" fill="#2c2c2c">HO</text>
</g>
<line x1="110.60" y1="87.75" x2="110.60" y2="98.70" stroke="#3a3a3a" stroke-width="1.2" stroke-linecap="round"/>
<g transform="translate(106.85,108.80) scale(0.97,1.08)">
<text x="0.00" y="0.00" font-family="'Liberation Sans', sans-serif" font-size="9.8" font-weight="normal" text-anchor="start" fill="#2c2c2c">OH</text>
</g>
<line x1="158.66" y1="60.00" x2="173.85" y2="51.15" stroke="#3a3a3a" stroke-width="1.2" stroke-linecap="round"/>
<line x1="189.70" y1="23.70" x2="205.55" y2="32.85" stroke="#3a3a3a" stroke-width="1.2" stroke-linecap="round"/>
<line x1="205.55" y1="32.85" x2="205.55" y2="51.15" stroke="#3a3a3a" stroke-width="1.2" stroke-linecap="round"/>
<line x1="205.55" y1="51.15" x2="189.70" y2="60.30" stroke="#3a3a3a" stroke-width="1.2" stroke-linecap="round"/>
<line x1="189.70" y1="60.30" x2="173.85" y2="51.15" stroke="#3a3a3a" stroke-width="1.2" stroke-linecap="round"/>
<line x1="173.85" y1="51.15" x2="173.85" y2="32.85" stroke="#3a3a3a" stroke-width="1.2" stroke-linecap="round"/>
<line x1="173.85" y1="32.85" x2="189.70" y2="23.70" stroke="#3a3a3a" stroke-width="1.2" stroke-linecap="round"/>
<line x1="177.89" y1="33.98" x2="188.66" y2="27.76" stroke="#3a3a3a" stroke-width="1.2" stroke-linecap="round"/>
<line x1="202.55" y1="35.78" x2="202.55" y2="48.22" stroke="#3a3a3a" stroke-width="1.2" stroke-linecap="round"/>
<line x1="188.66" y1="56.24" x2="177.89" y2="50.02" stroke="#3a3a3a" stroke-width="1.2" stroke-linecap="round"/>
<line x1="189.70" y1="23.70" x2="189.70" y2="10.90" stroke="#3a3a3a" stroke-width="1.2" stroke-linecap="round"/>
<g transform="translate(185.95,8.40) scale(0.97,1.08)">
<text x="0.00" y="0.00" font-family="'Liberation Sans', sans-serif" font-size="9.8" font-weight="normal" text-anchor="start" fill="#2c2c2c">OH</text>
</g>
<line x1="205.55" y1="32.85" x2="216.30" y2="25.60" stroke="#3a3a3a" stroke-width="1.2" stroke-linecap="round"/>
<g transform="translate(217.60,26.80) scale(0.97,1.08)">
<text x="0.00" y="0.00" font-family="'Liberation Sans', sans-serif" font-size="9.8" font-weight="normal" text-anchor="start" fill="#2c2c2c">OH</text>
</g>
<line x1="205.55" y1="51.15" x2="216.30" y2="57.30" stroke="#3a3a3a" stroke-width="1.2" stroke-linecap="round"/>
<g transform="translate(217.60,63.40) scale(0.97,1.08)">
<text x="0.00" y="0.00" font-family="'Liberation Sans', sans-serif" font-size="9.8" font-weight="normal" text-anchor="start" fill="#2c2c2c">OH</text>
</g>
<line x1="158.66" y1="78.50" x2="169.20" y2="84.50" stroke="#3a3a3a" stroke-width="1.2" stroke-linecap="round"/>
<g transform="translate(170.00,91.10) scale(0.97,1.08)">
<text x="0.00" y="0.00" font-family="'Liberation Sans', sans-serif" font-size="9.8" font-weight="normal" text-anchor="start" fill="#2c2c2c">OH</text>
</g>
<line x1="481.90" y1="48.80" x2="497.32" y2="57.70" stroke="#3a3a3a" stroke-width="1.2" stroke-linecap="round"/>
<line x1="497.32" y1="57.70" x2="497.32" y2="75.50" stroke="#3a3a3a" stroke-width="1.2" stroke-linecap="round"/>
<line x1="497.32" y1="75.50" x2="481.90" y2="84.40" stroke="#3a3a3a" stroke-width="1.2" stroke-linecap="round"/>
<line x1="481.90" y1="84.40" x2="466.48" y2="75.50" stroke="#3a3a3a" stroke-width="1.2" stroke-linecap="round"/>
<line x1="466.48" y1="75.50" x2="466.48" y2="57.70" stroke="#3a3a3a" stroke-width="1.2" stroke-linecap="round"/>
<line x1="466.48" y1="57.70" x2="481.90" y2="48.80" stroke="#3a3a3a" stroke-width="1.2" stroke-linecap="round"/>
<line x1="469.48" y1="72.65" x2="469.48" y2="60.55" stroke="#3a3a3a" stroke-width="1.2" stroke-linecap="round"/>
<line x1="482.87" y1="52.82" x2="493.35" y2="58.87" stroke="#3a3a3a" stroke-width="1.2" stroke-linecap="round"/>
<line x1="493.35" y1="74.33" x2="482.87" y2="80.38" stroke="#3a3a3a" stroke-width="1.2" stroke-linecap="round"/>
<line x1="509.09" y1="50.90" x2="497.32" y2="57.70" stroke="#3a3a3a" stroke-width="1.2" stroke-linecap="round"/>
<line x1="516.37" y1="50.90" x2="528.15" y2="57.70" stroke="#3a3a3a" stroke-width="1.2" stroke-linecap="round"/>
<line x1="528.15" y1="57.70" x2="528.15" y2="75.50" stroke="#3a3a3a" stroke-width="1.2" stroke-linecap="round"/>
<line x1="528.15" y1="75.50" x2="512.73" y2="84.40" stroke="#3a3a3a" stroke-width="1.2" stroke-linecap="round"/>
<line x1="512.73" y1="84.40" x2="497.32" y2="75.50" stroke="#3a3a3a" stroke-width="1.2" stroke-linecap="round"/>
<line x1="525.15" y1="60.55" x2="525.15" y2="72.65" stroke="#3a3a3a" stroke-width="1.2" stroke-linecap="round"/>
<g transform="translate(512.73,52.00) scale(0.97,1.08)">
<text x="0.00" y="0.00" font-family="'Liberation Sans', sans-serif" font-size="9.8" font-weight="normal" text-anchor="middle" fill="#2c2c2c">O</text>
</g>
<line x1="511.13" y1="85.00" x2="511.13" y2="96.00" stroke="#3a3a3a" stroke-width="1.2"/>
<line x1="514.33" y1="85.00" x2="514.33" y2="96.00" stroke="#3a3a3a" stroke-width="1.2"/>
<g transform="translate(512.73,104.10) scale(0.97,1.08)">
<text x="0.00" y="0.00" font-family="'Liberation Sans', sans-serif" font-size="9.8" font-weight="normal" text-anchor="middle" fill="#2c2c2c">O</text>
</g>
<line x1="466.48" y1="57.70" x2="456.50" y2="51.40" stroke="#3a3a3a" stroke-width="1.2" stroke-linecap="round"/>
<g transform="translate(455.60,52.00) scale(0.97,1.08)">
<text x="0.00" y="0.00" font-family="'Liberation Sans', sans-serif" font-size="9.8" font-weight="normal" text-anchor="end" fill="#2c2c2c">HO</text>
</g>
<line x1="481.90" y1="84.40" x2="481.90" y2="94.60" stroke="#3a3a3a" stroke-width="1.2" stroke-linecap="round"/>
<g transform="translate(478.15,104.10) scale(0.97,1.08)">
<text x="0.00" y="0.00" font-family="'Liberation Sans', sans-serif" font-size="9.8" font-weight="normal" text-anchor="start" fill="#2c2c2c">OH</text>
</g>
<line x1="528.15" y1="57.70" x2="543.04" y2="48.65" stroke="#3a3a3a" stroke-width="1.2" stroke-linecap="round"/>
<line x1="558.20" y1="22.40" x2="573.36" y2="31.15" stroke="#3a3a3a" stroke-width="1.2" stroke-linecap="round"/>
<line x1="573.36" y1="31.15" x2="573.36" y2="48.65" stroke="#3a3a3a" stroke-width="1.2" stroke-linecap="round"/>
<line x1="573.36" y1="48.65" x2="558.20" y2="57.40" stroke="#3a3a3a" stroke-width="1.2" stroke-linecap="round"/>
<line x1="558.20" y1="57.40" x2="543.04" y2="48.65" stroke="#3a3a3a" stroke-width="1.2" stroke-linecap="round"/>
<line x1="543.04" y1="48.65" x2="543.04" y2="31.15" stroke="#3a3a3a" stroke-width="1.2" stroke-linecap="round"/>
<line x1="543.04" y1="31.15" x2="558.20" y2="22.40" stroke="#3a3a3a" stroke-width="1.2" stroke-linecap="round"/>
<line x1="546.97" y1="32.35" x2="557.28" y2="26.40" stroke="#3a3a3a" stroke-width="1.2" stroke-linecap="round"/>
<line x1="570.36" y1="33.95" x2="570.36" y2="45.85" stroke="#3a3a3a" stroke-width="1.2" stroke-linecap="round"/>
<line x1="557.28" y1="53.40" x2="546.97" y2="47.45" stroke="#3a3a3a" stroke-width="1.2" stroke-linecap="round"/>
<line x1="558.20" y1="22.40" x2="558.20" y2="10.80" stroke="#3a3a3a" stroke-width="1.2" stroke-linecap="round"/>
<g transform="translate(554.45,7.80) scale(0.97,1.08)">
<text x="0.00" y="0.00" font-family="'Liberation Sans', sans-serif" font-size="9.8" font-weight="normal" text-anchor="start" fill="#2c2c2c">OH</text>
</g>
<line x1="573.36" y1="31.15" x2="584.00" y2="24.90" stroke="#3a3a3a" stroke-width="1.2" stroke-linecap="round"/>
<g transform="translate(584.80,25.60) scale(0.97,1.08)">
<text x="0.00" y="0.00" font-family="'Liberation Sans', sans-serif" font-size="9.8" font-weight="normal" text-anchor="start" fill="#2c2c2c">OH</text>
</g>
<line x1="573.36" y1="48.65" x2="584.00" y2="54.50" stroke="#3a3a3a" stroke-width="1.2" stroke-linecap="round"/>
<g transform="translate(584.80,60.50) scale(0.97,1.08)">
<text x="0.00" y="0.00" font-family="'Liberation Sans', sans-serif" font-size="9.8" font-weight="normal" text-anchor="start" fill="#2c2c2c">OH</text>
</g>
<line x1="528.15" y1="75.50" x2="538.30" y2="80.20" stroke="#3a3a3a" stroke-width="1.2" stroke-linecap="round"/>
<g transform="translate(542.60,86.80) scale(0.97,1.08)">
<text x="0.00" y="0.00" font-family="'Liberation Sans', sans-serif" font-size="9.8" font-weight="normal" text-anchor="middle" fill="#2c2c2c">O</text>
</g>
<line x1="546.20" y1="80.00" x2="556.90" y2="75.70" stroke="#3a3a3a" stroke-width="1.2" stroke-linecap="round"/>
<line x1="556.90" y1="75.70" x2="563.80" y2="77.10" stroke="#3a3a3a" stroke-width="1.2" stroke-linecap="round"/>
<line x1="556.90" y1="75.70" x2="550.20" y2="89.80" stroke="#3a3a3a" stroke-width="1.2" stroke-linecap="round"/>
<line x1="550.20" y1="89.80" x2="539.80" y2="97.30" stroke="#3a3a3a" stroke-width="1.2" stroke-linecap="round"/>
<g transform="translate(538.80,104.00) scale(0.97,1.08)">
<text x="0.00" y="0.00" font-family="'Liberation Sans', sans-serif" font-size="9.8" font-weight="normal" text-anchor="end" fill="#2c2c2c">HO</text>
</g>
<polygon points="550.20,89.20 565.00,83.70 565.00,86.90 550.20,90.50" fill="#1e1e1e"/>
<polygon points="565.00,83.70 583.40,87.90 582.50,91.70 565.00,86.90" fill="#1e1e1e"/>
<polygon points="581.00,90.40 585.20,90.70 591.30,75.70 590.50,75.70" fill="#1e1e1e"/>
<line x1="565.00" y1="85.40" x2="565.00" y2="74.60" stroke="#8a8a8a" stroke-width="1.2" stroke-linecap="round"/>
<g transform="translate(562.00,71.40) scale(0.97,1.08)">
<text x="0.00" y="0.00" font-family="'Liberation Sans', sans-serif" font-size="9.8" font-weight="normal" text-anchor="start" fill="#2c2c2c">OH</text>
</g>
<g transform="translate(575.20,82.90) scale(0.97,1.08)">
<text x="0.00" y="0.00" font-family="'Liberation Sans', sans-serif" font-size="9.8" font-weight="normal" text-anchor="middle" fill="#2c2c2c">O</text>
</g>
<circle cx="568.3" cy="79.0" r="0.6" fill="#444"/>
<line x1="590.90" y1="75.70" x2="579.80" y2="78.10" stroke="#3a3a3a" stroke-width="1.2" stroke-linecap="round"/>
<line x1="590.90" y1="75.70" x2="601.30" y2="67.60" stroke="#3a3a3a" stroke-width="1.2" stroke-linecap="round"/>
<g transform="translate(602.2,69.0) scale(0.97,1.08)">
<text x="0.00" y="0.00" font-family="'Liberation Sans', sans-serif" font-size="9.8" font-weight="normal" text-anchor="start" fill="#2c2c2c">CH</text>
<text x="14.20" y="2.20" font-family="'Liberation Sans', sans-serif" font-size="7.2" font-weight="normal" text-anchor="start" fill="#2c2c2c">3</text>
</g>
<line x1="582.80" y1="89.80" x2="586.50" y2="100.90" stroke="#3a3a3a" stroke-width="1.2" stroke-linecap="round"/>
<g transform="translate(585.90,109.10) scale(0.97,1.08)">
<text x="0.00" y="0.00" font-family="'Liberation Sans', sans-serif" font-size="9.8" font-weight="normal" text-anchor="start" fill="#2c2c2c">OH</text>
</g>
</svg>
</body></html>
